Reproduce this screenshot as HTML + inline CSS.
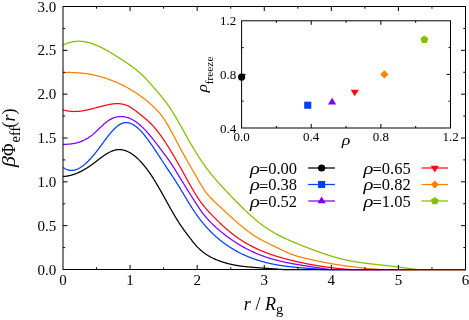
<!DOCTYPE html>
<html><head><meta charset="utf-8"><title>chart</title>
<style>
html,body{margin:0;padding:0;background:#fff;}
svg{will-change:transform;}
body{width:469px;height:320px;overflow:hidden;position:relative;font-family:"Liberation Serif",serif;}
</style></head><body>
<svg width="469" height="320" viewBox="0 0 469 320" style="position:absolute;left:0;top:0;font-family:'Liberation Serif',serif">
<rect x="0" y="0" width="469" height="320" fill="#fff"/>
<g fill="none" stroke-width="1.25" stroke-linejoin="round">
<path d="M63.00,176.43 L63.50,176.41 L64.00,176.39 L64.50,176.36 L65.00,176.32 L65.50,176.27 L66.00,176.22 L66.50,176.15 L67.00,176.08 L67.50,176.01 L68.00,175.92 L68.50,175.83 L69.00,175.73 L69.50,175.63 L70.00,175.51 L70.50,175.39 L71.00,175.27 L71.50,175.13 L72.00,174.99 L72.50,174.84 L73.00,174.69 L73.50,174.53 L74.00,174.36 L74.50,174.19 L75.00,174.01 L75.50,173.82 L76.00,173.63 L76.50,173.43 L77.00,173.23 L77.50,173.02 L78.00,172.80 L78.50,172.58 L79.00,172.35 L79.50,172.11 L80.00,171.87 L80.50,171.62 L81.00,171.37 L81.50,171.12 L82.00,170.85 L82.50,170.58 L83.00,170.31 L83.50,170.03 L84.00,169.75 L84.50,169.46 L85.00,169.16 L85.50,168.86 L86.00,168.56 L86.50,168.25 L87.00,167.93 L87.50,167.61 L88.00,167.29 L88.50,166.96 L89.00,166.63 L89.50,166.29 L90.00,165.95 L90.50,165.60 L91.00,165.25 L91.50,164.89 L92.00,164.53 L92.50,164.17 L93.00,163.80 L93.50,163.43 L94.00,163.05 L94.50,162.68 L95.00,162.30 L95.50,161.92 L96.00,161.54 L96.50,161.15 L97.00,160.77 L97.50,160.39 L98.00,160.00 L98.50,159.62 L99.00,159.24 L99.50,158.86 L100.00,158.48 L100.50,158.11 L101.00,157.74 L101.50,157.37 L102.00,157.00 L102.50,156.64 L103.00,156.28 L103.50,155.93 L104.00,155.58 L104.50,155.24 L105.00,154.90 L105.50,154.58 L106.00,154.25 L106.50,153.94 L107.00,153.63 L107.50,153.33 L108.00,153.04 L108.50,152.76 L109.00,152.49 L109.50,152.23 L110.00,151.97 L110.50,151.73 L111.00,151.50 L111.50,151.28 L112.00,151.07 L112.50,150.88 L113.00,150.70 L113.50,150.53 L114.00,150.37 L114.50,150.23 L115.00,150.10 L115.50,149.98 L116.00,149.88 L116.50,149.80 L117.00,149.73 L117.50,149.67 L118.00,149.63 L118.50,149.61 L119.00,149.59 L119.50,149.60 L120.00,149.61 L120.50,149.64 L121.00,149.68 L121.50,149.74 L122.00,149.81 L122.50,149.90 L123.00,150.00 L123.50,150.11 L124.00,150.23 L124.50,150.37 L125.00,150.52 L125.50,150.69 L126.00,150.87 L126.50,151.06 L127.00,151.26 L127.50,151.48 L128.00,151.71 L128.50,151.95 L129.00,152.21 L129.50,152.48 L130.00,152.76 L130.50,153.05 L131.00,153.36 L131.50,153.68 L132.00,154.01 L132.50,154.35 L133.00,154.71 L133.50,155.07 L134.00,155.45 L134.50,155.84 L135.00,156.24 L135.50,156.66 L136.00,157.08 L136.50,157.52 L137.00,157.97 L137.50,158.43 L138.00,158.90 L138.50,159.38 L139.00,159.88 L139.50,160.38 L140.00,160.90 L140.50,161.43 L141.00,161.96 L141.50,162.51 L142.00,163.07 L142.50,163.64 L143.00,164.22 L143.50,164.81 L144.00,165.42 L144.50,166.03 L145.00,166.65 L145.50,167.28 L146.00,167.93 L146.50,168.58 L147.00,169.24 L147.50,169.91 L148.00,170.60 L148.50,171.29 L149.00,171.99 L149.50,172.70 L150.00,173.42 L150.50,174.15 L151.00,174.89 L151.50,175.64 L152.00,176.40 L152.50,177.17 L153.00,177.94 L153.50,178.73 L154.00,179.52 L154.50,180.33 L155.00,181.14 L155.50,181.96 L156.00,182.79 L156.50,183.62 L157.00,184.46 L157.50,185.31 L158.00,186.17 L158.50,187.03 L159.00,187.89 L159.50,188.76 L160.00,189.64 L160.50,190.52 L161.00,191.40 L161.50,192.29 L162.00,193.18 L162.50,194.08 L163.00,194.97 L163.50,195.87 L164.00,196.77 L164.50,197.67 L165.00,198.58 L165.50,199.48 L166.00,200.38 L166.50,201.29 L167.00,202.19 L167.50,203.09 L168.00,204.00 L168.50,204.89 L169.00,205.79 L169.50,206.69 L170.00,207.58 L170.50,208.47 L171.00,209.36 L171.50,210.24 L172.00,211.12 L172.50,211.99 L173.00,212.86 L173.50,213.72 L174.00,214.58 L174.50,215.43 L175.00,216.28 L175.50,217.12 L176.00,217.95 L176.50,218.77 L177.00,219.59 L177.50,220.40 L178.00,221.20 L178.50,221.99 L179.00,222.77 L179.50,223.54 L180.00,224.30 L180.50,225.05 L181.00,225.79 L181.50,226.52 L182.00,227.25 L182.50,227.96 L183.00,228.67 L183.50,229.37 L184.00,230.06 L184.50,230.74 L185.00,231.43 L185.50,232.10 L186.00,232.77 L186.50,233.44 L187.00,234.10 L187.50,234.76 L188.00,235.42 L188.50,236.07 L189.00,236.72 L189.50,237.38 L190.00,238.03 L190.50,238.68 L191.00,239.33 L191.50,239.98 L192.00,240.62 L192.50,241.26 L193.00,241.90 L193.50,242.52 L194.00,243.14 L194.50,243.75 L195.00,244.35 L195.50,244.93 L196.00,245.50 L196.50,246.06 L197.00,246.60 L197.50,247.13 L198.00,247.64 L198.50,248.14 L199.00,248.63 L199.50,249.11 L200.00,249.57 L200.50,250.02 L201.00,250.46 L201.50,250.89 L202.00,251.31 L202.50,251.71 L203.00,252.11 L203.50,252.49 L204.00,252.87 L204.50,253.23 L205.00,253.59 L205.50,253.94 L206.00,254.27 L206.50,254.60 L207.00,254.92 L207.50,255.23 L208.00,255.54 L208.50,255.83 L209.00,256.12 L209.50,256.40 L210.00,256.68 L210.50,256.95 L211.00,257.21 L211.50,257.47 L212.00,257.72 L212.50,257.96 L213.00,258.20 L213.50,258.44 L214.00,258.67 L214.50,258.90 L215.00,259.12 L215.50,259.34 L216.00,259.56 L216.50,259.77 L217.00,259.97 L217.50,260.18 L218.00,260.37 L218.50,260.57 L219.00,260.76 L219.50,260.95 L220.00,261.13 L220.50,261.31 L221.00,261.49 L221.50,261.66 L222.00,261.83 L222.50,261.99 L223.00,262.16 L223.50,262.32 L224.00,262.47 L224.50,262.62 L225.00,262.77 L225.50,262.92 L226.00,263.06 L226.50,263.20 L227.00,263.34 L227.50,263.47 L228.00,263.60 L228.50,263.73 L229.00,263.85 L229.50,263.97 L230.00,264.09 L230.50,264.21 L231.00,264.32 L231.50,264.43 L232.00,264.54 L232.50,264.65 L233.00,264.75 L233.50,264.85 L234.00,264.95 L234.50,265.04 L235.00,265.14 L235.50,265.23 L236.00,265.32 L236.50,265.41 L237.00,265.49 L237.50,265.57 L238.00,265.65 L238.50,265.73 L239.00,265.81 L239.50,265.88 L240.00,265.95 L240.50,266.03 L241.00,266.09 L241.50,266.16 L242.00,266.23 L242.50,266.29 L243.00,266.35 L243.50,266.42 L244.00,266.47 L244.50,266.53 L245.00,266.59 L245.50,266.64 L246.00,266.70 L246.50,266.75 L247.00,266.80 L247.50,266.85 L248.00,266.90 L248.50,266.95 L249.00,267.00 L249.50,267.04 L250.00,267.09 L250.50,267.13 L251.00,267.17 L251.50,267.22 L252.00,267.26 L252.50,267.30 L253.00,267.34 L253.50,267.38 L254.00,267.42 L254.50,267.46 L255.00,267.49 L255.50,267.53 L256.00,267.57 L256.50,267.61 L257.00,267.64 L257.50,267.68 L258.00,267.72 L258.50,267.75 L259.00,267.79 L259.50,267.82 L260.00,267.86 L260.50,267.89 L261.00,267.93 L261.50,267.97 L262.00,268.00 L262.50,268.04 L263.00,268.07 L263.50,268.11 L264.00,268.15 L264.50,268.18 L265.00,268.22 L265.50,268.26 L266.00,268.29 L266.50,268.33 L267.00,268.37 L267.50,268.40 L268.00,268.44 L268.50,268.48 L269.00,268.51 L269.50,268.55 L270.00,268.59 L270.50,268.62 L271.00,268.66 L271.50,268.70 L272.00,268.73 L272.50,268.77 L273.00,268.81 L273.50,268.85 L274.00,268.88 L274.50,268.92 L275.00,268.96 L275.50,268.99 L276.00,269.03 L276.50,269.07 L277.00,269.11 L277.50,269.14 L278.00,269.18 L278.50,269.22 L279.00,269.26 L279.50,269.29 L280.00,269.33 L280.50,269.37 L281.00,269.40 L281.50,269.44 L282.00,269.48 L282.50,269.50 L283.00,269.50 L283.50,269.50 L284.00,269.50 L284.50,269.50 L285.00,269.50 L285.50,269.50 L286.00,269.50 L286.50,269.50 L287.00,269.50 L287.50,269.50 L288.00,269.50 L288.50,269.50 L289.00,269.50 L289.50,269.50 L290.00,269.50 L290.50,269.50 L291.00,269.50 L291.50,269.50 L292.00,269.50 L292.50,269.50 L293.00,269.50 L293.50,269.50 L294.00,269.50 L294.50,269.50 L295.00,269.50 L295.50,269.50 L296.00,269.50 L296.50,269.50 L297.00,269.50 L297.50,269.50 L298.00,269.50 L298.50,269.50 L299.00,269.50 L299.50,269.50 L300.00,269.50 L300.50,269.50 L301.00,269.50 L301.50,269.50 L302.00,269.50 L302.50,269.50 L303.00,269.50 L303.50,269.50 L304.00,269.50 L304.50,269.50 L305.00,269.50 L305.50,269.50 L306.00,269.50 L306.50,269.50 L307.00,269.50 L307.50,269.50 L308.00,269.50 L308.50,269.50 L309.00,269.50 L309.50,269.50 L310.00,269.50 L310.50,269.50 L311.00,269.50 L311.50,269.50 L312.00,269.50 L312.50,269.50 L313.00,269.50 L313.50,269.50 L314.00,269.50 L314.50,269.50 L315.00,269.50 L315.50,269.50 L316.00,269.50 L316.50,269.50 L317.00,269.50 L317.50,269.50 L318.00,269.50 L318.50,269.50 L319.00,269.50 L319.50,269.50 L320.00,269.50 L320.50,269.50 L321.00,269.50 L321.50,269.50 L322.00,269.50 L322.50,269.50 L323.00,269.50 L323.50,269.50 L324.00,269.50 L324.50,269.50 L325.00,269.50 L325.50,269.50 L326.00,269.50 L326.50,269.50 L327.00,269.50 L327.50,269.50 L328.00,269.50 L328.50,269.50 L329.00,269.50 L329.50,269.50 L330.00,269.50 L330.50,269.50 L331.00,269.50 L331.50,269.50 L332.00,269.50 L332.50,269.50 L333.00,269.50 L333.50,269.50 L334.00,269.50 L334.50,269.50 L335.00,269.50 L335.50,269.50 L336.00,269.50 L336.50,269.50 L337.00,269.50 L337.50,269.50 L338.00,269.50 L338.50,269.50 L339.00,269.50 L339.50,269.50 L340.00,269.50 L340.50,269.50 L341.00,269.50 L341.50,269.50 L342.00,269.50 L342.50,269.50 L343.00,269.50 L343.50,269.50 L344.00,269.50 L344.50,269.50 L345.00,269.50 L345.50,269.50 L346.00,269.50 L346.50,269.50 L347.00,269.50 L347.50,269.50 L348.00,269.50 L348.50,269.50 L349.00,269.50 L349.50,269.50 L350.00,269.50 L350.50,269.50 L351.00,269.50 L351.50,269.50 L352.00,269.50 L352.50,269.50 L353.00,269.50 L353.50,269.50 L354.00,269.50 L354.50,269.50 L355.00,269.50 L355.50,269.50 L356.00,269.50 L356.50,269.50 L357.00,269.50 L357.50,269.50 L358.00,269.50 L358.50,269.50 L359.00,269.50 L359.50,269.50 L360.00,269.50 L360.50,269.50 L361.00,269.50 L361.50,269.50 L362.00,269.50 L362.50,269.50 L363.00,269.50 L363.50,269.50 L364.00,269.50 L364.50,269.50 L365.00,269.50 L365.50,269.50 L366.00,269.50 L366.50,269.50 L367.00,269.50 L367.50,269.50 L368.00,269.50 L368.50,269.50 L369.00,269.50 L369.50,269.50 L370.00,269.50 L370.50,269.50 L371.00,269.50 L371.50,269.50 L372.00,269.50 L372.50,269.50 L373.00,269.50 L373.50,269.50 L374.00,269.50 L374.50,269.50 L375.00,269.50 L375.50,269.50 L376.00,269.50 L376.50,269.50 L377.00,269.50 L377.50,269.50 L378.00,269.50 L378.50,269.50 L379.00,269.50 L379.50,269.50 L380.00,269.50 L380.50,269.50 L381.00,269.50 L381.50,269.50 L382.00,269.50 L382.50,269.50 L383.00,269.50 L383.50,269.50 L384.00,269.50 L384.50,269.50 L385.00,269.50 L385.50,269.50 L386.00,269.50 L386.50,269.50 L387.00,269.50 L387.50,269.50 L388.00,269.50 L388.50,269.50 L389.00,269.50 L389.50,269.50 L390.00,269.50 L390.50,269.50 L391.00,269.50 L391.50,269.50 L392.00,269.50 L392.50,269.50 L393.00,269.50 L393.50,269.50 L394.00,269.50 L394.50,269.50 L395.00,269.50 L395.50,269.50 L396.00,269.50 L396.50,269.50 L397.00,269.50 L397.50,269.50 L398.00,269.50 L398.50,269.50 L399.00,269.50 L399.50,269.50 L400.00,269.50 L400.50,269.50 L401.00,269.50 L401.50,269.50 L402.00,269.50 L402.50,269.50 L403.00,269.50 L403.50,269.50 L404.00,269.50 L404.50,269.50 L405.00,269.50 L405.50,269.50 L406.00,269.50 L406.50,269.50 L407.00,269.50 L407.50,269.50 L408.00,269.50 L408.50,269.50 L409.00,269.50 L409.50,269.50 L410.00,269.50 L410.50,269.50 L411.00,269.50 L411.50,269.50 L412.00,269.50 L412.50,269.50 L413.00,269.50 L413.50,269.50 L414.00,269.50 L414.50,269.50 L415.00,269.50 L415.50,269.50 L416.00,269.50 L416.50,269.50 L417.00,269.50 L417.50,269.50 L418.00,269.50 L418.50,269.50 L419.00,269.50 L419.50,269.50 L420.00,269.50 L420.50,269.50 L421.00,269.50 L421.50,269.50 L422.00,269.50 L422.50,269.50 L423.00,269.50 L423.50,269.50 L424.00,269.50 L424.50,269.50 L425.00,269.50 L425.50,269.50 L426.00,269.50 L426.50,269.50 L427.00,269.50 L427.50,269.50 L428.00,269.50 L428.50,269.50 L429.00,269.50 L429.50,269.50 L430.00,269.50 L430.50,269.50 L431.00,269.50 L431.50,269.50 L432.00,269.50 L432.50,269.50 L433.00,269.50 L433.50,269.50 L434.00,269.50 L434.50,269.50 L435.00,269.50 L435.50,269.50 L436.00,269.50 L436.50,269.50 L437.00,269.50 L437.50,269.50 L438.00,269.50 L438.50,269.50 L439.00,269.50 L439.50,269.50 L440.00,269.50 L440.50,269.50 L441.00,269.50 L441.50,269.50 L442.00,269.50 L442.50,269.50 L443.00,269.50 L443.50,269.50 L444.00,269.50 L444.50,269.50 L445.00,269.50 L445.50,269.50 L446.00,269.50 L446.50,269.50 L447.00,269.50 L447.50,269.50 L448.00,269.50 L448.50,269.50 L449.00,269.50 L449.50,269.50 L450.00,269.50 L450.50,269.50 L451.00,269.50 L451.50,269.50 L452.00,269.50 L452.50,269.50 L453.00,269.50 L453.50,269.50 L454.00,269.50 L454.50,269.50 L455.00,269.50 L455.50,269.50 L456.00,269.50 L456.50,269.50 L457.00,269.50 L457.50,269.50 L458.00,269.50 L458.50,269.50 L459.00,269.50 L459.50,269.50 L460.00,269.50 L460.50,269.50 L461.00,269.50 L461.50,269.50 L462.00,269.50 L462.50,269.50 L463.00,269.50 L463.50,269.50 L464.00,269.50 L464.50,269.50 L465.00,269.50 L465.50,269.50" stroke="#000000"/>
<path d="M63.00,167.47 L63.50,167.83 L64.00,168.15 L64.50,168.46 L65.00,168.74 L65.50,169.00 L66.00,169.23 L66.50,169.44 L67.00,169.64 L67.50,169.81 L68.00,169.95 L68.50,170.08 L69.00,170.19 L69.50,170.27 L70.00,170.34 L70.50,170.38 L71.00,170.41 L71.50,170.41 L72.00,170.40 L72.50,170.36 L73.00,170.31 L73.50,170.24 L74.00,170.15 L74.50,170.05 L75.00,169.92 L75.50,169.78 L76.00,169.62 L76.50,169.45 L77.00,169.25 L77.50,169.04 L78.00,168.82 L78.50,168.58 L79.00,168.32 L79.50,168.05 L80.00,167.76 L80.50,167.46 L81.00,167.14 L81.50,166.81 L82.00,166.47 L82.50,166.11 L83.00,165.73 L83.50,165.35 L84.00,164.95 L84.50,164.54 L85.00,164.12 L85.50,163.68 L86.00,163.23 L86.50,162.77 L87.00,162.30 L87.50,161.82 L88.00,161.33 L88.50,160.82 L89.00,160.31 L89.50,159.79 L90.00,159.25 L90.50,158.71 L91.00,158.16 L91.50,157.60 L92.00,157.03 L92.50,156.45 L93.00,155.86 L93.50,155.27 L94.00,154.66 L94.50,154.05 L95.00,153.44 L95.50,152.81 L96.00,152.18 L96.50,151.55 L97.00,150.90 L97.50,150.25 L98.00,149.60 L98.50,148.94 L99.00,148.28 L99.50,147.61 L100.00,146.94 L100.50,146.26 L101.00,145.58 L101.50,144.90 L102.00,144.22 L102.50,143.54 L103.00,142.86 L103.50,142.18 L104.00,141.50 L104.50,140.82 L105.00,140.15 L105.50,139.48 L106.00,138.81 L106.50,138.15 L107.00,137.49 L107.50,136.84 L108.00,136.20 L108.50,135.56 L109.00,134.93 L109.50,134.31 L110.00,133.70 L110.50,133.10 L111.00,132.50 L111.50,131.92 L112.00,131.35 L112.50,130.80 L113.00,130.25 L113.50,129.72 L114.00,129.21 L114.50,128.70 L115.00,128.22 L115.50,127.75 L116.00,127.29 L116.50,126.86 L117.00,126.44 L117.50,126.04 L118.00,125.66 L118.50,125.30 L119.00,124.96 L119.50,124.64 L120.00,124.35 L120.50,124.07 L121.00,123.82 L121.50,123.59 L122.00,123.39 L122.50,123.21 L123.00,123.06 L123.50,122.92 L124.00,122.82 L124.50,122.73 L125.00,122.67 L125.50,122.63 L126.00,122.61 L126.50,122.61 L127.00,122.64 L127.50,122.68 L128.00,122.75 L128.50,122.84 L129.00,122.95 L129.50,123.08 L130.00,123.23 L130.50,123.40 L131.00,123.60 L131.50,123.81 L132.00,124.04 L132.50,124.28 L133.00,124.55 L133.50,124.84 L134.00,125.14 L134.50,125.46 L135.00,125.80 L135.50,126.16 L136.00,126.54 L136.50,126.93 L137.00,127.34 L137.50,127.76 L138.00,128.21 L138.50,128.66 L139.00,129.14 L139.50,129.62 L140.00,130.13 L140.50,130.64 L141.00,131.17 L141.50,131.72 L142.00,132.27 L142.50,132.84 L143.00,133.42 L143.50,134.01 L144.00,134.62 L144.50,135.23 L145.00,135.86 L145.50,136.49 L146.00,137.13 L146.50,137.79 L147.00,138.45 L147.50,139.12 L148.00,139.80 L148.50,140.49 L149.00,141.18 L149.50,141.88 L150.00,142.59 L150.50,143.30 L151.00,144.02 L151.50,144.74 L152.00,145.47 L152.50,146.20 L153.00,146.94 L153.50,147.67 L154.00,148.42 L154.50,149.16 L155.00,149.91 L155.50,150.66 L156.00,151.41 L156.50,152.16 L157.00,152.91 L157.50,153.67 L158.00,154.42 L158.50,155.18 L159.00,155.93 L159.50,156.69 L160.00,157.45 L160.50,158.21 L161.00,158.96 L161.50,159.72 L162.00,160.48 L162.50,161.24 L163.00,162.00 L163.50,162.75 L164.00,163.51 L164.50,164.27 L165.00,165.03 L165.50,165.78 L166.00,166.54 L166.50,167.30 L167.00,168.05 L167.50,168.81 L168.00,169.56 L168.50,170.31 L169.00,171.06 L169.50,171.81 L170.00,172.57 L170.50,173.32 L171.00,174.07 L171.50,174.82 L172.00,175.58 L172.50,176.34 L173.00,177.10 L173.50,177.86 L174.00,178.63 L174.50,179.40 L175.00,180.18 L175.50,180.95 L176.00,181.74 L176.50,182.53 L177.00,183.32 L177.50,184.11 L178.00,184.91 L178.50,185.72 L179.00,186.53 L179.50,187.34 L180.00,188.15 L180.50,188.97 L181.00,189.80 L181.50,190.62 L182.00,191.46 L182.50,192.29 L183.00,193.12 L183.50,193.96 L184.00,194.80 L184.50,195.64 L185.00,196.48 L185.50,197.31 L186.00,198.15 L186.50,198.99 L187.00,199.82 L187.50,200.65 L188.00,201.48 L188.50,202.31 L189.00,203.13 L189.50,203.95 L190.00,204.76 L190.50,205.57 L191.00,206.37 L191.50,207.16 L192.00,207.95 L192.50,208.73 L193.00,209.50 L193.50,210.27 L194.00,211.02 L194.50,211.77 L195.00,212.50 L195.50,213.23 L196.00,213.95 L196.50,214.66 L197.00,215.37 L197.50,216.06 L198.00,216.75 L198.50,217.43 L199.00,218.10 L199.50,218.76 L200.00,219.41 L200.50,220.06 L201.00,220.70 L201.50,221.33 L202.00,221.96 L202.50,222.57 L203.00,223.18 L203.50,223.78 L204.00,224.38 L204.50,224.96 L205.00,225.54 L205.50,226.12 L206.00,226.68 L206.50,227.24 L207.00,227.79 L207.50,228.34 L208.00,228.88 L208.50,229.41 L209.00,229.94 L209.50,230.46 L210.00,230.97 L210.50,231.48 L211.00,231.98 L211.50,232.47 L212.00,232.96 L212.50,233.44 L213.00,233.92 L213.50,234.39 L214.00,234.86 L214.50,235.32 L215.00,235.77 L215.50,236.22 L216.00,236.67 L216.50,237.11 L217.00,237.54 L217.50,237.97 L218.00,238.39 L218.50,238.81 L219.00,239.23 L219.50,239.64 L220.00,240.04 L220.50,240.44 L221.00,240.84 L221.50,241.23 L222.00,241.62 L222.50,242.00 L223.00,242.38 L223.50,242.75 L224.00,243.12 L224.50,243.49 L225.00,243.85 L225.50,244.21 L226.00,244.56 L226.50,244.91 L227.00,245.26 L227.50,245.60 L228.00,245.94 L228.50,246.27 L229.00,246.60 L229.50,246.93 L230.00,247.25 L230.50,247.57 L231.00,247.88 L231.50,248.20 L232.00,248.50 L232.50,248.81 L233.00,249.11 L233.50,249.41 L234.00,249.70 L234.50,249.99 L235.00,250.28 L235.50,250.56 L236.00,250.84 L236.50,251.12 L237.00,251.39 L237.50,251.66 L238.00,251.93 L238.50,252.19 L239.00,252.45 L239.50,252.71 L240.00,252.97 L240.50,253.22 L241.00,253.47 L241.50,253.71 L242.00,253.95 L242.50,254.19 L243.00,254.43 L243.50,254.66 L244.00,254.89 L244.50,255.12 L245.00,255.35 L245.50,255.57 L246.00,255.79 L246.50,256.01 L247.00,256.22 L247.50,256.43 L248.00,256.64 L248.50,256.85 L249.00,257.05 L249.50,257.25 L250.00,257.45 L250.50,257.64 L251.00,257.84 L251.50,258.03 L252.00,258.21 L252.50,258.40 L253.00,258.58 L253.50,258.76 L254.00,258.94 L254.50,259.12 L255.00,259.29 L255.50,259.46 L256.00,259.63 L256.50,259.79 L257.00,259.96 L257.50,260.12 L258.00,260.28 L258.50,260.44 L259.00,260.59 L259.50,260.74 L260.00,260.89 L260.50,261.04 L261.00,261.19 L261.50,261.33 L262.00,261.47 L262.50,261.61 L263.00,261.75 L263.50,261.88 L264.00,262.02 L264.50,262.15 L265.00,262.28 L265.50,262.41 L266.00,262.53 L266.50,262.66 L267.00,262.78 L267.50,262.90 L268.00,263.01 L268.50,263.13 L269.00,263.25 L269.50,263.36 L270.00,263.47 L270.50,263.58 L271.00,263.69 L271.50,263.79 L272.00,263.90 L272.50,264.00 L273.00,264.10 L273.50,264.20 L274.00,264.29 L274.50,264.39 L275.00,264.49 L275.50,264.58 L276.00,264.67 L276.50,264.76 L277.00,264.85 L277.50,264.93 L278.00,265.02 L278.50,265.10 L279.00,265.19 L279.50,265.27 L280.00,265.35 L280.50,265.43 L281.00,265.50 L281.50,265.58 L282.00,265.66 L282.50,265.73 L283.00,265.80 L283.50,265.87 L284.00,265.94 L284.50,266.01 L285.00,266.08 L285.50,266.15 L286.00,266.21 L286.50,266.28 L287.00,266.34 L287.50,266.40 L288.00,266.46 L288.50,266.52 L289.00,266.58 L289.50,266.64 L290.00,266.70 L290.50,266.76 L291.00,266.81 L291.50,266.87 L292.00,266.92 L292.50,266.98 L293.00,267.03 L293.50,267.08 L294.00,267.13 L294.50,267.18 L295.00,267.23 L295.50,267.28 L296.00,267.33 L296.50,267.38 L297.00,267.42 L297.50,267.47 L298.00,267.52 L298.50,267.56 L299.00,267.61 L299.50,267.65 L300.00,267.70 L300.50,267.74 L301.00,267.78 L301.50,267.83 L302.00,267.87 L302.50,267.91 L303.00,267.95 L303.50,267.99 L304.00,268.03 L304.50,268.07 L305.00,268.11 L305.50,268.15 L306.00,268.19 L306.50,268.23 L307.00,268.26 L307.50,268.30 L308.00,268.34 L308.50,268.37 L309.00,268.41 L309.50,268.45 L310.00,268.48 L310.50,268.51 L311.00,268.55 L311.50,268.58 L312.00,268.62 L312.50,268.65 L313.00,268.68 L313.50,268.71 L314.00,268.75 L314.50,268.78 L315.00,268.81 L315.50,268.84 L316.00,268.87 L316.50,268.90 L317.00,268.93 L317.50,268.96 L318.00,268.98 L318.50,269.01 L319.00,269.04 L319.50,269.07 L320.00,269.10 L320.50,269.12 L321.00,269.50 L321.50,269.50 L322.00,269.50 L322.50,269.50 L323.00,269.50 L323.50,269.50 L324.00,269.50 L324.50,269.50 L325.00,269.50 L325.50,269.50 L326.00,269.50 L326.50,269.50 L327.00,269.50 L327.50,269.50 L328.00,269.50 L328.50,269.50 L329.00,269.50 L329.50,269.50 L330.00,269.50 L330.50,269.50 L331.00,269.50 L331.50,269.50 L332.00,269.50 L332.50,269.50 L333.00,269.50 L333.50,269.50 L334.00,269.50 L334.50,269.50 L335.00,269.50 L335.50,269.50 L336.00,269.50 L336.50,269.50 L337.00,269.50 L337.50,269.50 L338.00,269.50 L338.50,269.50 L339.00,269.50 L339.50,269.50 L340.00,269.50 L340.50,269.50 L341.00,269.50 L341.50,269.50 L342.00,269.50 L342.50,269.50 L343.00,269.50 L343.50,269.50 L344.00,269.50 L344.50,269.50 L345.00,269.50 L345.50,269.50 L346.00,269.50 L346.50,269.50 L347.00,269.50 L347.50,269.50 L348.00,269.50 L348.50,269.50 L349.00,269.50 L349.50,269.50 L350.00,269.50 L350.50,269.50 L351.00,269.50 L351.50,269.50 L352.00,269.50 L352.50,269.50 L353.00,269.50 L353.50,269.50 L354.00,269.50 L354.50,269.50 L355.00,269.50 L355.50,269.50 L356.00,269.50 L356.50,269.50 L357.00,269.50 L357.50,269.50 L358.00,269.50 L358.50,269.50 L359.00,269.50 L359.50,269.50 L360.00,269.50 L360.50,269.50 L361.00,269.50 L361.50,269.50 L362.00,269.50 L362.50,269.50 L363.00,269.50 L363.50,269.50 L364.00,269.50 L364.50,269.50 L365.00,269.50 L365.50,269.50 L366.00,269.50 L366.50,269.50 L367.00,269.50 L367.50,269.50 L368.00,269.50 L368.50,269.50 L369.00,269.50 L369.50,269.50 L370.00,269.50 L370.50,269.50 L371.00,269.50 L371.50,269.50 L372.00,269.50 L372.50,269.50 L373.00,269.50 L373.50,269.50 L374.00,269.50 L374.50,269.50 L375.00,269.50 L375.50,269.50 L376.00,269.50 L376.50,269.50 L377.00,269.50 L377.50,269.50 L378.00,269.50 L378.50,269.50 L379.00,269.50 L379.50,269.50 L380.00,269.50 L380.50,269.50 L381.00,269.50 L381.50,269.50 L382.00,269.50 L382.50,269.50 L383.00,269.50 L383.50,269.50 L384.00,269.50 L384.50,269.50 L385.00,269.50 L385.50,269.50 L386.00,269.50 L386.50,269.50 L387.00,269.50 L387.50,269.50 L388.00,269.50 L388.50,269.50 L389.00,269.50 L389.50,269.50 L390.00,269.50 L390.50,269.50 L391.00,269.50 L391.50,269.50 L392.00,269.50 L392.50,269.50 L393.00,269.50 L393.50,269.50 L394.00,269.50 L394.50,269.50 L395.00,269.50 L395.50,269.50 L396.00,269.50 L396.50,269.50 L397.00,269.50 L397.50,269.50 L398.00,269.50 L398.50,269.50 L399.00,269.50 L399.50,269.50 L400.00,269.50 L400.50,269.50 L401.00,269.50 L401.50,269.50 L402.00,269.50 L402.50,269.50 L403.00,269.50 L403.50,269.50 L404.00,269.50 L404.50,269.50 L405.00,269.50 L405.50,269.50 L406.00,269.50 L406.50,269.50 L407.00,269.50 L407.50,269.50 L408.00,269.50 L408.50,269.50 L409.00,269.50 L409.50,269.50 L410.00,269.50 L410.50,269.50 L411.00,269.50 L411.50,269.50 L412.00,269.50 L412.50,269.50 L413.00,269.50 L413.50,269.50 L414.00,269.50 L414.50,269.50 L415.00,269.50 L415.50,269.50 L416.00,269.50 L416.50,269.50 L417.00,269.50 L417.50,269.50 L418.00,269.50 L418.50,269.50 L419.00,269.50 L419.50,269.50 L420.00,269.50 L420.50,269.50 L421.00,269.50 L421.50,269.50 L422.00,269.50 L422.50,269.50 L423.00,269.50 L423.50,269.50 L424.00,269.50 L424.50,269.50 L425.00,269.50 L425.50,269.50 L426.00,269.50 L426.50,269.50 L427.00,269.50 L427.50,269.50 L428.00,269.50 L428.50,269.50 L429.00,269.50 L429.50,269.50 L430.00,269.50 L430.50,269.50 L431.00,269.50 L431.50,269.50 L432.00,269.50 L432.50,269.50 L433.00,269.50 L433.50,269.50 L434.00,269.50 L434.50,269.50 L435.00,269.50 L435.50,269.50 L436.00,269.50 L436.50,269.50 L437.00,269.50 L437.50,269.50 L438.00,269.50 L438.50,269.50 L439.00,269.50 L439.50,269.50 L440.00,269.50 L440.50,269.50 L441.00,269.50 L441.50,269.50 L442.00,269.50 L442.50,269.50 L443.00,269.50 L443.50,269.50 L444.00,269.50 L444.50,269.50 L445.00,269.50 L445.50,269.50 L446.00,269.50 L446.50,269.50 L447.00,269.50 L447.50,269.50 L448.00,269.50 L448.50,269.50 L449.00,269.50 L449.50,269.50 L450.00,269.50 L450.50,269.50 L451.00,269.50 L451.50,269.50 L452.00,269.50 L452.50,269.50 L453.00,269.50 L453.50,269.50 L454.00,269.50 L454.50,269.50 L455.00,269.50 L455.50,269.50 L456.00,269.50 L456.50,269.50 L457.00,269.50 L457.50,269.50 L458.00,269.50 L458.50,269.50 L459.00,269.50 L459.50,269.50 L460.00,269.50 L460.50,269.50 L461.00,269.50 L461.50,269.50 L462.00,269.50 L462.50,269.50 L463.00,269.50 L463.50,269.50 L464.00,269.50 L464.50,269.50 L465.00,269.50 L465.50,269.50" stroke="#0040ff"/>
<path d="M63.00,144.30 L63.50,144.31 L64.00,144.31 L64.50,144.31 L65.00,144.30 L65.50,144.30 L66.00,144.28 L66.50,144.27 L67.00,144.25 L67.50,144.22 L68.00,144.19 L68.50,144.16 L69.00,144.12 L69.50,144.08 L70.00,144.03 L70.50,143.98 L71.00,143.92 L71.50,143.86 L72.00,143.79 L72.50,143.72 L73.00,143.64 L73.50,143.56 L74.00,143.47 L74.50,143.37 L75.00,143.27 L75.50,143.16 L76.00,143.04 L76.50,142.92 L77.00,142.79 L77.50,142.65 L78.00,142.51 L78.50,142.36 L79.00,142.20 L79.50,142.04 L80.00,141.87 L80.50,141.69 L81.00,141.50 L81.50,141.30 L82.00,141.10 L82.50,140.89 L83.00,140.67 L83.50,140.44 L84.00,140.20 L84.50,139.95 L85.00,139.70 L85.50,139.44 L86.00,139.16 L86.50,138.88 L87.00,138.59 L87.50,138.29 L88.00,137.97 L88.50,137.65 L89.00,137.32 L89.50,136.98 L90.00,136.63 L90.50,136.27 L91.00,135.89 L91.50,135.51 L92.00,135.12 L92.50,134.71 L93.00,134.30 L93.50,133.87 L94.00,133.43 L94.50,132.99 L95.00,132.54 L95.50,132.08 L96.00,131.61 L96.50,131.15 L97.00,130.67 L97.50,130.19 L98.00,129.71 L98.50,129.23 L99.00,128.75 L99.50,128.27 L100.00,127.79 L100.50,127.31 L101.00,126.83 L101.50,126.36 L102.00,125.89 L102.50,125.42 L103.00,124.96 L103.50,124.51 L104.00,124.07 L104.50,123.63 L105.00,123.21 L105.50,122.79 L106.00,122.39 L106.50,121.99 L107.00,121.61 L107.50,121.25 L108.00,120.89 L108.50,120.56 L109.00,120.23 L109.50,119.92 L110.00,119.63 L110.50,119.34 L111.00,119.08 L111.50,118.82 L112.00,118.58 L112.50,118.35 L113.00,118.14 L113.50,117.94 L114.00,117.75 L114.50,117.58 L115.00,117.42 L115.50,117.27 L116.00,117.13 L116.50,117.01 L117.00,116.90 L117.50,116.81 L118.00,116.73 L118.50,116.66 L119.00,116.60 L119.50,116.56 L120.00,116.53 L120.50,116.51 L121.00,116.50 L121.50,116.51 L122.00,116.53 L122.50,116.56 L123.00,116.61 L123.50,116.66 L124.00,116.73 L124.50,116.81 L125.00,116.91 L125.50,117.01 L126.00,117.13 L126.50,117.26 L127.00,117.40 L127.50,117.55 L128.00,117.71 L128.50,117.89 L129.00,118.08 L129.50,118.28 L130.00,118.49 L130.50,118.71 L131.00,118.94 L131.50,119.19 L132.00,119.45 L132.50,119.71 L133.00,119.99 L133.50,120.28 L134.00,120.58 L134.50,120.89 L135.00,121.22 L135.50,121.55 L136.00,121.89 L136.50,122.25 L137.00,122.62 L137.50,122.99 L138.00,123.38 L138.50,123.78 L139.00,124.18 L139.50,124.60 L140.00,125.03 L140.50,125.47 L141.00,125.92 L141.50,126.38 L142.00,126.85 L142.50,127.33 L143.00,127.82 L143.50,128.31 L144.00,128.82 L144.50,129.34 L145.00,129.86 L145.50,130.40 L146.00,130.94 L146.50,131.49 L147.00,132.04 L147.50,132.61 L148.00,133.18 L148.50,133.76 L149.00,134.34 L149.50,134.93 L150.00,135.53 L150.50,136.13 L151.00,136.74 L151.50,137.35 L152.00,137.97 L152.50,138.59 L153.00,139.22 L153.50,139.85 L154.00,140.48 L154.50,141.12 L155.00,141.76 L155.50,142.41 L156.00,143.06 L156.50,143.71 L157.00,144.36 L157.50,145.01 L158.00,145.67 L158.50,146.33 L159.00,146.99 L159.50,147.65 L160.00,148.31 L160.50,148.97 L161.00,149.63 L161.50,150.29 L162.00,150.95 L162.50,151.61 L163.00,152.27 L163.50,152.93 L164.00,153.59 L164.50,154.25 L165.00,154.91 L165.50,155.57 L166.00,156.24 L166.50,156.92 L167.00,157.59 L167.50,158.28 L168.00,158.97 L168.50,159.67 L169.00,160.38 L169.50,161.09 L170.00,161.82 L170.50,162.55 L171.00,163.30 L171.50,164.06 L172.00,164.82 L172.50,165.59 L173.00,166.37 L173.50,167.16 L174.00,167.95 L174.50,168.75 L175.00,169.56 L175.50,170.37 L176.00,171.18 L176.50,171.99 L177.00,172.81 L177.50,173.63 L178.00,174.45 L178.50,175.27 L179.00,176.09 L179.50,176.90 L180.00,177.72 L180.50,178.54 L181.00,179.35 L181.50,180.17 L182.00,180.98 L182.50,181.80 L183.00,182.61 L183.50,183.42 L184.00,184.23 L184.50,185.04 L185.00,185.85 L185.50,186.65 L186.00,187.46 L186.50,188.27 L187.00,189.07 L187.50,189.87 L188.00,190.67 L188.50,191.48 L189.00,192.28 L189.50,193.07 L190.00,193.87 L190.50,194.67 L191.00,195.47 L191.50,196.26 L192.00,197.05 L192.50,197.85 L193.00,198.64 L193.50,199.43 L194.00,200.22 L194.50,201.01 L195.00,201.79 L195.50,202.58 L196.00,203.36 L196.50,204.14 L197.00,204.91 L197.50,205.68 L198.00,206.44 L198.50,207.20 L199.00,207.94 L199.50,208.68 L200.00,209.41 L200.50,210.13 L201.00,210.85 L201.50,211.54 L202.00,212.23 L202.50,212.91 L203.00,213.57 L203.50,214.22 L204.00,214.85 L204.50,215.47 L205.00,216.08 L205.50,216.68 L206.00,217.26 L206.50,217.83 L207.00,218.39 L207.50,218.95 L208.00,219.49 L208.50,220.03 L209.00,220.56 L209.50,221.08 L210.00,221.60 L210.50,222.11 L211.00,222.62 L211.50,223.12 L212.00,223.61 L212.50,224.10 L213.00,224.59 L213.50,225.07 L214.00,225.54 L214.50,226.01 L215.00,226.47 L215.50,226.93 L216.00,227.39 L216.50,227.84 L217.00,228.28 L217.50,228.73 L218.00,229.16 L218.50,229.60 L219.00,230.02 L219.50,230.45 L220.00,230.87 L220.50,231.29 L221.00,231.70 L221.50,232.11 L222.00,232.52 L222.50,232.92 L223.00,233.32 L223.50,233.72 L224.00,234.11 L224.50,234.50 L225.00,234.89 L225.50,235.27 L226.00,235.65 L226.50,236.03 L227.00,236.40 L227.50,236.77 L228.00,237.14 L228.50,237.51 L229.00,237.87 L229.50,238.23 L230.00,238.59 L230.50,238.94 L231.00,239.29 L231.50,239.64 L232.00,239.98 L232.50,240.32 L233.00,240.66 L233.50,241.00 L234.00,241.33 L234.50,241.66 L235.00,241.99 L235.50,242.31 L236.00,242.63 L236.50,242.95 L237.00,243.27 L237.50,243.58 L238.00,243.89 L238.50,244.20 L239.00,244.50 L239.50,244.80 L240.00,245.10 L240.50,245.40 L241.00,245.69 L241.50,245.98 L242.00,246.27 L242.50,246.55 L243.00,246.83 L243.50,247.11 L244.00,247.39 L244.50,247.66 L245.00,247.93 L245.50,248.20 L246.00,248.47 L246.50,248.73 L247.00,248.99 L247.50,249.25 L248.00,249.51 L248.50,249.76 L249.00,250.01 L249.50,250.26 L250.00,250.50 L250.50,250.75 L251.00,250.99 L251.50,251.22 L252.00,251.46 L252.50,251.69 L253.00,251.92 L253.50,252.15 L254.00,252.37 L254.50,252.60 L255.00,252.82 L255.50,253.04 L256.00,253.25 L256.50,253.46 L257.00,253.67 L257.50,253.88 L258.00,254.09 L258.50,254.29 L259.00,254.49 L259.50,254.69 L260.00,254.89 L260.50,255.08 L261.00,255.27 L261.50,255.46 L262.00,255.65 L262.50,255.83 L263.00,256.02 L263.50,256.20 L264.00,256.38 L264.50,256.55 L265.00,256.73 L265.50,256.90 L266.00,257.07 L266.50,257.24 L267.00,257.40 L267.50,257.57 L268.00,257.73 L268.50,257.89 L269.00,258.04 L269.50,258.20 L270.00,258.35 L270.50,258.51 L271.00,258.66 L271.50,258.81 L272.00,258.95 L272.50,259.10 L273.00,259.24 L273.50,259.38 L274.00,259.52 L274.50,259.66 L275.00,259.79 L275.50,259.93 L276.00,260.06 L276.50,260.19 L277.00,260.32 L277.50,260.45 L278.00,260.58 L278.50,260.70 L279.00,260.83 L279.50,260.95 L280.00,261.07 L280.50,261.19 L281.00,261.31 L281.50,261.42 L282.00,261.54 L282.50,261.65 L283.00,261.76 L283.50,261.88 L284.00,261.99 L284.50,262.09 L285.00,262.20 L285.50,262.31 L286.00,262.41 L286.50,262.52 L287.00,262.62 L287.50,262.72 L288.00,262.82 L288.50,262.92 L289.00,263.02 L289.50,263.12 L290.00,263.21 L290.50,263.31 L291.00,263.40 L291.50,263.50 L292.00,263.59 L292.50,263.68 L293.00,263.77 L293.50,263.86 L294.00,263.95 L294.50,264.04 L295.00,264.13 L295.50,264.22 L296.00,264.30 L296.50,264.39 L297.00,264.47 L297.50,264.56 L298.00,264.64 L298.50,264.72 L299.00,264.81 L299.50,264.89 L300.00,264.97 L300.50,265.05 L301.00,265.13 L301.50,265.21 L302.00,265.29 L302.50,265.37 L303.00,265.45 L303.50,265.53 L304.00,265.60 L304.50,265.68 L305.00,265.76 L305.50,265.84 L306.00,265.91 L306.50,265.99 L307.00,266.07 L307.50,266.14 L308.00,266.22 L308.50,266.29 L309.00,266.37 L309.50,266.44 L310.00,266.52 L310.50,266.59 L311.00,266.67 L311.50,266.75 L312.00,266.82 L312.50,266.90 L313.00,266.97 L313.50,267.05 L314.00,267.12 L314.50,267.20 L315.00,267.27 L315.50,267.35 L316.00,267.43 L316.50,267.50 L317.00,267.58 L317.50,267.66 L318.00,267.73 L318.50,267.81 L319.00,267.89 L319.50,267.96 L320.00,268.04 L320.50,268.12 L321.00,268.20 L321.50,268.27 L322.00,268.35 L322.50,268.43 L323.00,268.51 L323.50,268.58 L324.00,268.66 L324.50,268.74 L325.00,268.82 L325.50,268.90 L326.00,268.97 L326.50,269.05 L327.00,269.13 L327.50,269.21 L328.00,269.29 L328.50,269.37 L329.00,269.44 L329.50,269.50 L330.00,269.50 L330.50,269.50 L331.00,269.50 L331.50,269.50 L332.00,269.50 L332.50,269.50 L333.00,269.50 L333.50,269.50 L334.00,269.50 L334.50,269.50 L335.00,269.50 L335.50,269.50 L336.00,269.50 L336.50,269.50 L337.00,269.50 L337.50,269.50 L338.00,269.50 L338.50,269.50 L339.00,269.50 L339.50,269.50 L340.00,269.50 L340.50,269.50 L341.00,269.50 L341.50,269.50 L342.00,269.50 L342.50,269.50 L343.00,269.50 L343.50,269.50 L344.00,269.50 L344.50,269.50 L345.00,269.50 L345.50,269.50 L346.00,269.50 L346.50,269.50 L347.00,269.50 L347.50,269.50 L348.00,269.50 L348.50,269.50 L349.00,269.50 L349.50,269.50 L350.00,269.50 L350.50,269.50 L351.00,269.50 L351.50,269.50 L352.00,269.50 L352.50,269.50 L353.00,269.50 L353.50,269.50 L354.00,269.50 L354.50,269.50 L355.00,269.50 L355.50,269.50 L356.00,269.50 L356.50,269.50 L357.00,269.50 L357.50,269.50 L358.00,269.50 L358.50,269.50 L359.00,269.50 L359.50,269.50 L360.00,269.50 L360.50,269.50 L361.00,269.50 L361.50,269.50 L362.00,269.50 L362.50,269.50 L363.00,269.50 L363.50,269.50 L364.00,269.50 L364.50,269.50 L365.00,269.50 L365.50,269.50 L366.00,269.50 L366.50,269.50 L367.00,269.50 L367.50,269.50 L368.00,269.50 L368.50,269.50 L369.00,269.50 L369.50,269.50 L370.00,269.50 L370.50,269.50 L371.00,269.50 L371.50,269.50 L372.00,269.50 L372.50,269.50 L373.00,269.50 L373.50,269.50 L374.00,269.50 L374.50,269.50 L375.00,269.50 L375.50,269.50 L376.00,269.50 L376.50,269.50 L377.00,269.50 L377.50,269.50 L378.00,269.50 L378.50,269.50 L379.00,269.50 L379.50,269.50 L380.00,269.50 L380.50,269.50 L381.00,269.50 L381.50,269.50 L382.00,269.50 L382.50,269.50 L383.00,269.50 L383.50,269.50 L384.00,269.50 L384.50,269.50 L385.00,269.50 L385.50,269.50 L386.00,269.50 L386.50,269.50 L387.00,269.50 L387.50,269.50 L388.00,269.50 L388.50,269.50 L389.00,269.50 L389.50,269.50 L390.00,269.50 L390.50,269.50 L391.00,269.50 L391.50,269.50 L392.00,269.50 L392.50,269.50 L393.00,269.50 L393.50,269.50 L394.00,269.50 L394.50,269.50 L395.00,269.50 L395.50,269.50 L396.00,269.50 L396.50,269.50 L397.00,269.50 L397.50,269.50 L398.00,269.50 L398.50,269.50 L399.00,269.50 L399.50,269.50 L400.00,269.50 L400.50,269.50 L401.00,269.50 L401.50,269.50 L402.00,269.50 L402.50,269.50 L403.00,269.50 L403.50,269.50 L404.00,269.50 L404.50,269.50 L405.00,269.50 L405.50,269.50 L406.00,269.50 L406.50,269.50 L407.00,269.50 L407.50,269.50 L408.00,269.50 L408.50,269.50 L409.00,269.50 L409.50,269.50 L410.00,269.50 L410.50,269.50 L411.00,269.50 L411.50,269.50 L412.00,269.50 L412.50,269.50 L413.00,269.50 L413.50,269.50 L414.00,269.50 L414.50,269.50 L415.00,269.50 L415.50,269.50 L416.00,269.50 L416.50,269.50 L417.00,269.50 L417.50,269.50 L418.00,269.50 L418.50,269.50 L419.00,269.50 L419.50,269.50 L420.00,269.50 L420.50,269.50 L421.00,269.50 L421.50,269.50 L422.00,269.50 L422.50,269.50 L423.00,269.50 L423.50,269.50 L424.00,269.50 L424.50,269.50 L425.00,269.50 L425.50,269.50 L426.00,269.50 L426.50,269.50 L427.00,269.50 L427.50,269.50 L428.00,269.50 L428.50,269.50 L429.00,269.50 L429.50,269.50 L430.00,269.50 L430.50,269.50 L431.00,269.50 L431.50,269.50 L432.00,269.50 L432.50,269.50 L433.00,269.50 L433.50,269.50 L434.00,269.50 L434.50,269.50 L435.00,269.50 L435.50,269.50 L436.00,269.50 L436.50,269.50 L437.00,269.50 L437.50,269.50 L438.00,269.50 L438.50,269.50 L439.00,269.50 L439.50,269.50 L440.00,269.50 L440.50,269.50 L441.00,269.50 L441.50,269.50 L442.00,269.50 L442.50,269.50 L443.00,269.50 L443.50,269.50 L444.00,269.50 L444.50,269.50 L445.00,269.50 L445.50,269.50 L446.00,269.50 L446.50,269.50 L447.00,269.50 L447.50,269.50 L448.00,269.50 L448.50,269.50 L449.00,269.50 L449.50,269.50 L450.00,269.50 L450.50,269.50 L451.00,269.50 L451.50,269.50 L452.00,269.50 L452.50,269.50 L453.00,269.50 L453.50,269.50 L454.00,269.50 L454.50,269.50 L455.00,269.50 L455.50,269.50 L456.00,269.50 L456.50,269.50 L457.00,269.50 L457.50,269.50 L458.00,269.50 L458.50,269.50 L459.00,269.50 L459.50,269.50 L460.00,269.50 L460.50,269.50 L461.00,269.50 L461.50,269.50 L462.00,269.50 L462.50,269.50 L463.00,269.50 L463.50,269.50 L464.00,269.50 L464.50,269.50 L465.00,269.50 L465.50,269.50" stroke="#8000ff"/>
<path d="M63.00,109.80 L63.50,109.96 L64.00,110.11 L64.50,110.25 L65.00,110.38 L65.50,110.51 L66.00,110.62 L66.50,110.73 L67.00,110.83 L67.50,110.93 L68.00,111.01 L68.50,111.09 L69.00,111.16 L69.50,111.23 L70.00,111.28 L70.50,111.33 L71.00,111.38 L71.50,111.42 L72.00,111.45 L72.50,111.47 L73.00,111.49 L73.50,111.50 L74.00,111.51 L74.50,111.51 L75.00,111.50 L75.50,111.49 L76.00,111.47 L76.50,111.45 L77.00,111.42 L77.50,111.39 L78.00,111.35 L78.50,111.31 L79.00,111.26 L79.50,111.21 L80.00,111.15 L80.50,111.09 L81.00,111.03 L81.50,110.96 L82.00,110.89 L82.50,110.81 L83.00,110.73 L83.50,110.64 L84.00,110.56 L84.50,110.46 L85.00,110.37 L85.50,110.27 L86.00,110.17 L86.50,110.07 L87.00,109.96 L87.50,109.86 L88.00,109.74 L88.50,109.63 L89.00,109.52 L89.50,109.40 L90.00,109.28 L90.50,109.16 L91.00,109.03 L91.50,108.91 L92.00,108.78 L92.50,108.66 L93.00,108.53 L93.50,108.40 L94.00,108.27 L94.50,108.14 L95.00,108.00 L95.50,107.87 L96.00,107.74 L96.50,107.61 L97.00,107.47 L97.50,107.34 L98.00,107.20 L98.50,107.07 L99.00,106.94 L99.50,106.81 L100.00,106.67 L100.50,106.54 L101.00,106.41 L101.50,106.28 L102.00,106.15 L102.50,106.03 L103.00,105.90 L103.50,105.78 L104.00,105.65 L104.50,105.53 L105.00,105.41 L105.50,105.29 L106.00,105.18 L106.50,105.07 L107.00,104.96 L107.50,104.85 L108.00,104.74 L108.50,104.64 L109.00,104.54 L109.50,104.45 L110.00,104.36 L110.50,104.27 L111.00,104.19 L111.50,104.11 L112.00,104.04 L112.50,103.97 L113.00,103.91 L113.50,103.86 L114.00,103.81 L114.50,103.76 L115.00,103.73 L115.50,103.70 L116.00,103.67 L116.50,103.66 L117.00,103.65 L117.50,103.65 L118.00,103.66 L118.50,103.68 L119.00,103.70 L119.50,103.74 L120.00,103.78 L120.50,103.83 L121.00,103.89 L121.50,103.97 L122.00,104.05 L122.50,104.14 L123.00,104.25 L123.50,104.36 L124.00,104.49 L124.50,104.62 L125.00,104.77 L125.50,104.93 L126.00,105.11 L126.50,105.29 L127.00,105.49 L127.50,105.70 L128.00,105.93 L128.50,106.17 L129.00,106.42 L129.50,106.69 L130.00,106.97 L130.50,107.26 L131.00,107.56 L131.50,107.88 L132.00,108.20 L132.50,108.54 L133.00,108.89 L133.50,109.24 L134.00,109.60 L134.50,109.97 L135.00,110.34 L135.50,110.72 L136.00,111.11 L136.50,111.50 L137.00,111.89 L137.50,112.28 L138.00,112.68 L138.50,113.08 L139.00,113.47 L139.50,113.87 L140.00,114.27 L140.50,114.66 L141.00,115.06 L141.50,115.46 L142.00,115.86 L142.50,116.26 L143.00,116.66 L143.50,117.07 L144.00,117.48 L144.50,117.89 L145.00,118.31 L145.50,118.73 L146.00,119.16 L146.50,119.59 L147.00,120.03 L147.50,120.47 L148.00,120.92 L148.50,121.38 L149.00,121.84 L149.50,122.32 L150.00,122.80 L150.50,123.29 L151.00,123.79 L151.50,124.30 L152.00,124.82 L152.50,125.35 L153.00,125.90 L153.50,126.45 L154.00,127.01 L154.50,127.59 L155.00,128.17 L155.50,128.76 L156.00,129.37 L156.50,129.98 L157.00,130.60 L157.50,131.23 L158.00,131.87 L158.50,132.52 L159.00,133.18 L159.50,133.85 L160.00,134.52 L160.50,135.21 L161.00,135.90 L161.50,136.60 L162.00,137.31 L162.50,138.02 L163.00,138.74 L163.50,139.48 L164.00,140.21 L164.50,140.96 L165.00,141.71 L165.50,142.47 L166.00,143.23 L166.50,144.01 L167.00,144.79 L167.50,145.57 L168.00,146.36 L168.50,147.16 L169.00,147.96 L169.50,148.77 L170.00,149.58 L170.50,150.40 L171.00,151.23 L171.50,152.05 L172.00,152.89 L172.50,153.73 L173.00,154.57 L173.50,155.42 L174.00,156.27 L174.50,157.13 L175.00,157.99 L175.50,158.85 L176.00,159.72 L176.50,160.59 L177.00,161.46 L177.50,162.34 L178.00,163.22 L178.50,164.10 L179.00,164.99 L179.50,165.88 L180.00,166.77 L180.50,167.66 L181.00,168.56 L181.50,169.45 L182.00,170.35 L182.50,171.25 L183.00,172.16 L183.50,173.06 L184.00,173.96 L184.50,174.87 L185.00,175.78 L185.50,176.68 L186.00,177.59 L186.50,178.50 L187.00,179.40 L187.50,180.31 L188.00,181.21 L188.50,182.11 L189.00,183.01 L189.50,183.90 L190.00,184.79 L190.50,185.68 L191.00,186.56 L191.50,187.43 L192.00,188.30 L192.50,189.16 L193.00,190.02 L193.50,190.87 L194.00,191.71 L194.50,192.54 L195.00,193.37 L195.50,194.18 L196.00,194.99 L196.50,195.78 L197.00,196.56 L197.50,197.34 L198.00,198.10 L198.50,198.84 L199.00,199.58 L199.50,200.30 L200.00,201.01 L200.50,201.71 L201.00,202.39 L201.50,203.06 L202.00,203.72 L202.50,204.37 L203.00,205.00 L203.50,205.63 L204.00,206.24 L204.50,206.85 L205.00,207.45 L205.50,208.04 L206.00,208.62 L206.50,209.19 L207.00,209.76 L207.50,210.32 L208.00,210.87 L208.50,211.42 L209.00,211.96 L209.50,212.50 L210.00,213.03 L210.50,213.56 L211.00,214.08 L211.50,214.60 L212.00,215.12 L212.50,215.63 L213.00,216.15 L213.50,216.66 L214.00,217.17 L214.50,217.68 L215.00,218.18 L215.50,218.68 L216.00,219.18 L216.50,219.68 L217.00,220.17 L217.50,220.67 L218.00,221.15 L218.50,221.64 L219.00,222.12 L219.50,222.61 L220.00,223.08 L220.50,223.56 L221.00,224.03 L221.50,224.50 L222.00,224.97 L222.50,225.43 L223.00,225.89 L223.50,226.35 L224.00,226.80 L224.50,227.25 L225.00,227.70 L225.50,228.14 L226.00,228.58 L226.50,229.01 L227.00,229.45 L227.50,229.88 L228.00,230.30 L228.50,230.72 L229.00,231.14 L229.50,231.56 L230.00,231.97 L230.50,232.37 L231.00,232.77 L231.50,233.17 L232.00,233.57 L232.50,233.96 L233.00,234.34 L233.50,234.73 L234.00,235.11 L234.50,235.48 L235.00,235.85 L235.50,236.22 L236.00,236.58 L236.50,236.94 L237.00,237.30 L237.50,237.65 L238.00,238.00 L238.50,238.35 L239.00,238.69 L239.50,239.03 L240.00,239.36 L240.50,239.69 L241.00,240.02 L241.50,240.34 L242.00,240.66 L242.50,240.98 L243.00,241.30 L243.50,241.61 L244.00,241.91 L244.50,242.22 L245.00,242.52 L245.50,242.82 L246.00,243.11 L246.50,243.40 L247.00,243.69 L247.50,243.98 L248.00,244.26 L248.50,244.54 L249.00,244.82 L249.50,245.09 L250.00,245.36 L250.50,245.63 L251.00,245.89 L251.50,246.15 L252.00,246.41 L252.50,246.67 L253.00,246.92 L253.50,247.17 L254.00,247.42 L254.50,247.67 L255.00,247.91 L255.50,248.15 L256.00,248.39 L256.50,248.62 L257.00,248.85 L257.50,249.08 L258.00,249.31 L258.50,249.53 L259.00,249.76 L259.50,249.98 L260.00,250.19 L260.50,250.41 L261.00,250.62 L261.50,250.83 L262.00,251.04 L262.50,251.25 L263.00,251.45 L263.50,251.65 L264.00,251.85 L264.50,252.05 L265.00,252.24 L265.50,252.44 L266.00,252.63 L266.50,252.82 L267.00,253.01 L267.50,253.19 L268.00,253.37 L268.50,253.56 L269.00,253.74 L269.50,253.91 L270.00,254.09 L270.50,254.26 L271.00,254.44 L271.50,254.61 L272.00,254.78 L272.50,254.95 L273.00,255.11 L273.50,255.28 L274.00,255.44 L274.50,255.60 L275.00,255.76 L275.50,255.92 L276.00,256.07 L276.50,256.23 L277.00,256.38 L277.50,256.54 L278.00,256.69 L278.50,256.84 L279.00,256.99 L279.50,257.13 L280.00,257.28 L280.50,257.42 L281.00,257.57 L281.50,257.71 L282.00,257.85 L282.50,257.99 L283.00,258.13 L283.50,258.27 L284.00,258.41 L284.50,258.55 L285.00,258.68 L285.50,258.82 L286.00,258.95 L286.50,259.08 L287.00,259.21 L287.50,259.34 L288.00,259.47 L288.50,259.60 L289.00,259.73 L289.50,259.86 L290.00,259.99 L290.50,260.11 L291.00,260.24 L291.50,260.36 L292.00,260.48 L292.50,260.61 L293.00,260.73 L293.50,260.85 L294.00,260.97 L294.50,261.09 L295.00,261.20 L295.50,261.32 L296.00,261.44 L296.50,261.55 L297.00,261.67 L297.50,261.78 L298.00,261.89 L298.50,262.00 L299.00,262.12 L299.50,262.23 L300.00,262.34 L300.50,262.44 L301.00,262.55 L301.50,262.66 L302.00,262.76 L302.50,262.87 L303.00,262.97 L303.50,263.08 L304.00,263.18 L304.50,263.28 L305.00,263.38 L305.50,263.48 L306.00,263.58 L306.50,263.68 L307.00,263.78 L307.50,263.88 L308.00,263.97 L308.50,264.07 L309.00,264.17 L309.50,264.26 L310.00,264.35 L310.50,264.45 L311.00,264.54 L311.50,264.63 L312.00,264.72 L312.50,264.81 L313.00,264.90 L313.50,264.98 L314.00,265.07 L314.50,265.16 L315.00,265.24 L315.50,265.33 L316.00,265.41 L316.50,265.50 L317.00,265.58 L317.50,265.66 L318.00,265.74 L318.50,265.82 L319.00,265.90 L319.50,265.98 L320.00,266.06 L320.50,266.14 L321.00,266.21 L321.50,266.29 L322.00,266.37 L322.50,266.44 L323.00,266.52 L323.50,266.59 L324.00,266.66 L324.50,266.73 L325.00,266.80 L325.50,266.88 L326.00,266.95 L326.50,267.01 L327.00,267.08 L327.50,267.15 L328.00,267.22 L328.50,267.28 L329.00,267.35 L329.50,267.42 L330.00,267.48 L330.50,267.54 L331.00,267.61 L331.50,267.67 L332.00,267.73 L332.50,267.79 L333.00,267.85 L333.50,267.91 L334.00,267.97 L334.50,268.03 L335.00,268.09 L335.50,268.15 L336.00,268.20 L336.50,268.26 L337.00,268.31 L337.50,268.37 L338.00,268.42 L338.50,268.48 L339.00,268.53 L339.50,268.58 L340.00,268.63 L340.50,268.69 L341.00,268.74 L341.50,268.79 L342.00,268.83 L342.50,268.88 L343.00,268.93 L343.50,268.98 L344.00,269.03 L344.50,269.07 L345.00,269.12 L345.50,269.16 L346.00,269.21 L346.50,269.25 L347.00,269.30 L347.50,269.34 L348.00,269.38 L348.50,269.42 L349.00,269.46 L349.50,269.50 L350.00,269.50 L350.50,269.50 L351.00,269.50 L351.50,269.50 L352.00,269.50 L352.50,269.50 L353.00,269.50 L353.50,269.50 L354.00,269.50 L354.50,269.50 L355.00,269.50 L355.50,269.50 L356.00,269.50 L356.50,269.50 L357.00,269.50 L357.50,269.50 L358.00,269.50 L358.50,269.50 L359.00,269.50 L359.50,269.50 L360.00,269.50 L360.50,269.50 L361.00,269.50 L361.50,269.50 L362.00,269.50 L362.50,269.50 L363.00,269.50 L363.50,269.50 L364.00,269.50 L364.50,269.50 L365.00,269.50 L365.50,269.50 L366.00,269.50 L366.50,269.50 L367.00,269.50 L367.50,269.50 L368.00,269.50 L368.50,269.50 L369.00,269.50 L369.50,269.50 L370.00,269.50 L370.50,269.50 L371.00,269.50 L371.50,269.50 L372.00,269.50 L372.50,269.50 L373.00,269.50 L373.50,269.50 L374.00,269.50 L374.50,269.50 L375.00,269.50 L375.50,269.50 L376.00,269.50 L376.50,269.50 L377.00,269.50 L377.50,269.50 L378.00,269.50 L378.50,269.50 L379.00,269.50 L379.50,269.50 L380.00,269.50 L380.50,269.50 L381.00,269.50 L381.50,269.50 L382.00,269.50 L382.50,269.50 L383.00,269.50 L383.50,269.50 L384.00,269.50 L384.50,269.50 L385.00,269.50 L385.50,269.50 L386.00,269.50 L386.50,269.50 L387.00,269.50 L387.50,269.50 L388.00,269.50 L388.50,269.50 L389.00,269.50 L389.50,269.50 L390.00,269.50 L390.50,269.50 L391.00,269.50 L391.50,269.50 L392.00,269.50 L392.50,269.50 L393.00,269.50 L393.50,269.50 L394.00,269.50 L394.50,269.50 L395.00,269.50 L395.50,269.50 L396.00,269.50 L396.50,269.50 L397.00,269.50 L397.50,269.50 L398.00,269.50 L398.50,269.50 L399.00,269.50 L399.50,269.50 L400.00,269.50 L400.50,269.50 L401.00,269.50 L401.50,269.50 L402.00,269.50 L402.50,269.50 L403.00,269.50 L403.50,269.50 L404.00,269.50 L404.50,269.50 L405.00,269.50 L405.50,269.50 L406.00,269.50 L406.50,269.50 L407.00,269.50 L407.50,269.50 L408.00,269.50 L408.50,269.50 L409.00,269.50 L409.50,269.50 L410.00,269.50 L410.50,269.50 L411.00,269.50 L411.50,269.50 L412.00,269.50 L412.50,269.50 L413.00,269.50 L413.50,269.50 L414.00,269.50 L414.50,269.50 L415.00,269.50 L415.50,269.50 L416.00,269.50 L416.50,269.50 L417.00,269.50 L417.50,269.50 L418.00,269.50 L418.50,269.50 L419.00,269.50 L419.50,269.50 L420.00,269.50 L420.50,269.50 L421.00,269.50 L421.50,269.50 L422.00,269.50 L422.50,269.50 L423.00,269.50 L423.50,269.50 L424.00,269.50 L424.50,269.50 L425.00,269.50 L425.50,269.50 L426.00,269.50 L426.50,269.50 L427.00,269.50 L427.50,269.50 L428.00,269.50 L428.50,269.50 L429.00,269.50 L429.50,269.50 L430.00,269.50 L430.50,269.50 L431.00,269.50 L431.50,269.50 L432.00,269.50 L432.50,269.50 L433.00,269.50 L433.50,269.50 L434.00,269.50 L434.50,269.50 L435.00,269.50 L435.50,269.50 L436.00,269.50 L436.50,269.50 L437.00,269.50 L437.50,269.50 L438.00,269.50 L438.50,269.50 L439.00,269.50 L439.50,269.50 L440.00,269.50 L440.50,269.50 L441.00,269.50 L441.50,269.50 L442.00,269.50 L442.50,269.50 L443.00,269.50 L443.50,269.50 L444.00,269.50 L444.50,269.50 L445.00,269.50 L445.50,269.50 L446.00,269.50 L446.50,269.50 L447.00,269.50 L447.50,269.50 L448.00,269.50 L448.50,269.50 L449.00,269.50 L449.50,269.50 L450.00,269.50 L450.50,269.50 L451.00,269.50 L451.50,269.50 L452.00,269.50 L452.50,269.50 L453.00,269.50 L453.50,269.50 L454.00,269.50 L454.50,269.50 L455.00,269.50 L455.50,269.50 L456.00,269.50 L456.50,269.50 L457.00,269.50 L457.50,269.50 L458.00,269.50 L458.50,269.50 L459.00,269.50 L459.50,269.50 L460.00,269.50 L460.50,269.50 L461.00,269.50 L461.50,269.50 L462.00,269.50 L462.50,269.50 L463.00,269.50 L463.50,269.50 L464.00,269.50 L464.50,269.50 L465.00,269.50 L465.50,269.50" stroke="#ff0814"/>
<path d="M63.00,72.63 L63.50,72.61 L64.00,72.59 L64.50,72.57 L65.00,72.55 L65.50,72.54 L66.00,72.52 L66.50,72.51 L67.00,72.50 L67.50,72.50 L68.00,72.49 L68.50,72.49 L69.00,72.49 L69.50,72.49 L70.00,72.49 L70.50,72.49 L71.00,72.50 L71.50,72.51 L72.00,72.52 L72.50,72.53 L73.00,72.55 L73.50,72.57 L74.00,72.58 L74.50,72.61 L75.00,72.63 L75.50,72.65 L76.00,72.68 L76.50,72.71 L77.00,72.74 L77.50,72.78 L78.00,72.81 L78.50,72.85 L79.00,72.89 L79.50,72.93 L80.00,72.98 L80.50,73.02 L81.00,73.07 L81.50,73.12 L82.00,73.17 L82.50,73.23 L83.00,73.29 L83.50,73.34 L84.00,73.41 L84.50,73.47 L85.00,73.54 L85.50,73.60 L86.00,73.67 L86.50,73.75 L87.00,73.82 L87.50,73.90 L88.00,73.98 L88.50,74.06 L89.00,74.14 L89.50,74.23 L90.00,74.32 L90.50,74.41 L91.00,74.50 L91.50,74.59 L92.00,74.69 L92.50,74.79 L93.00,74.89 L93.50,74.99 L94.00,75.10 L94.50,75.21 L95.00,75.32 L95.50,75.43 L96.00,75.55 L96.50,75.67 L97.00,75.79 L97.50,75.91 L98.00,76.03 L98.50,76.16 L99.00,76.29 L99.50,76.42 L100.00,76.56 L100.50,76.69 L101.00,76.83 L101.50,76.98 L102.00,77.12 L102.50,77.27 L103.00,77.41 L103.50,77.57 L104.00,77.72 L104.50,77.87 L105.00,78.03 L105.50,78.19 L106.00,78.36 L106.50,78.52 L107.00,78.69 L107.50,78.86 L108.00,79.03 L108.50,79.21 L109.00,79.39 L109.50,79.57 L110.00,79.75 L110.50,79.94 L111.00,80.13 L111.50,80.32 L112.00,80.51 L112.50,80.71 L113.00,80.90 L113.50,81.10 L114.00,81.31 L114.50,81.51 L115.00,81.72 L115.50,81.93 L116.00,82.15 L116.50,82.36 L117.00,82.58 L117.50,82.80 L118.00,83.03 L118.50,83.25 L119.00,83.48 L119.50,83.71 L120.00,83.95 L120.50,84.18 L121.00,84.42 L121.50,84.67 L122.00,84.91 L122.50,85.16 L123.00,85.41 L123.50,85.66 L124.00,85.92 L124.50,86.17 L125.00,86.43 L125.50,86.70 L126.00,86.96 L126.50,87.23 L127.00,87.50 L127.50,87.78 L128.00,88.06 L128.50,88.34 L129.00,88.62 L129.50,88.90 L130.00,89.19 L130.50,89.48 L131.00,89.77 L131.50,90.07 L132.00,90.37 L132.50,90.67 L133.00,90.98 L133.50,91.28 L134.00,91.60 L134.50,91.91 L135.00,92.23 L135.50,92.55 L136.00,92.87 L136.50,93.20 L137.00,93.53 L137.50,93.86 L138.00,94.20 L138.50,94.54 L139.00,94.89 L139.50,95.24 L140.00,95.59 L140.50,95.94 L141.00,96.30 L141.50,96.67 L142.00,97.04 L142.50,97.41 L143.00,97.78 L143.50,98.16 L144.00,98.55 L144.50,98.93 L145.00,99.33 L145.50,99.72 L146.00,100.12 L146.50,100.53 L147.00,100.94 L147.50,101.35 L148.00,101.77 L148.50,102.20 L149.00,102.62 L149.50,103.06 L150.00,103.50 L150.50,103.94 L151.00,104.38 L151.50,104.84 L152.00,105.29 L152.50,105.76 L153.00,106.22 L153.50,106.70 L154.00,107.18 L154.50,107.67 L155.00,108.16 L155.50,108.67 L156.00,109.18 L156.50,109.70 L157.00,110.23 L157.50,110.77 L158.00,111.32 L158.50,111.89 L159.00,112.46 L159.50,113.05 L160.00,113.65 L160.50,114.26 L161.00,114.89 L161.50,115.53 L162.00,116.18 L162.50,116.85 L163.00,117.54 L163.50,118.24 L164.00,118.96 L164.50,119.70 L165.00,120.46 L165.50,121.23 L166.00,122.02 L166.50,122.83 L167.00,123.65 L167.50,124.48 L168.00,125.34 L168.50,126.20 L169.00,127.07 L169.50,127.96 L170.00,128.86 L170.50,129.77 L171.00,130.68 L171.50,131.61 L172.00,132.54 L172.50,133.48 L173.00,134.42 L173.50,135.37 L174.00,136.33 L174.50,137.28 L175.00,138.24 L175.50,139.20 L176.00,140.16 L176.50,141.13 L177.00,142.09 L177.50,143.05 L178.00,144.00 L178.50,144.96 L179.00,145.91 L179.50,146.85 L180.00,147.79 L180.50,148.73 L181.00,149.66 L181.50,150.58 L182.00,151.49 L182.50,152.40 L183.00,153.31 L183.50,154.21 L184.00,155.10 L184.50,155.99 L185.00,156.88 L185.50,157.76 L186.00,158.64 L186.50,159.52 L187.00,160.39 L187.50,161.27 L188.00,162.14 L188.50,163.01 L189.00,163.87 L189.50,164.74 L190.00,165.61 L190.50,166.47 L191.00,167.34 L191.50,168.20 L192.00,169.07 L192.50,169.94 L193.00,170.80 L193.50,171.67 L194.00,172.55 L194.50,173.42 L195.00,174.30 L195.50,175.18 L196.00,176.06 L196.50,176.94 L197.00,177.83 L197.50,178.72 L198.00,179.60 L198.50,180.48 L199.00,181.35 L199.50,182.22 L200.00,183.09 L200.50,183.94 L201.00,184.78 L201.50,185.61 L202.00,186.43 L202.50,187.24 L203.00,188.03 L203.50,188.80 L204.00,189.55 L204.50,190.29 L205.00,191.00 L205.50,191.69 L206.00,192.37 L206.50,193.02 L207.00,193.66 L207.50,194.28 L208.00,194.89 L208.50,195.48 L209.00,196.06 L209.50,196.62 L210.00,197.17 L210.50,197.71 L211.00,198.23 L211.50,198.75 L212.00,199.26 L212.50,199.76 L213.00,200.25 L213.50,200.74 L214.00,201.22 L214.50,201.69 L215.00,202.16 L215.50,202.63 L216.00,203.09 L216.50,203.56 L217.00,204.02 L217.50,204.48 L218.00,204.95 L218.50,205.41 L219.00,205.87 L219.50,206.34 L220.00,206.80 L220.50,207.27 L221.00,207.73 L221.50,208.20 L222.00,208.66 L222.50,209.13 L223.00,209.59 L223.50,210.05 L224.00,210.52 L224.50,210.98 L225.00,211.45 L225.50,211.91 L226.00,212.37 L226.50,212.84 L227.00,213.30 L227.50,213.76 L228.00,214.22 L228.50,214.68 L229.00,215.14 L229.50,215.59 L230.00,216.05 L230.50,216.51 L231.00,216.96 L231.50,217.41 L232.00,217.86 L232.50,218.31 L233.00,218.76 L233.50,219.21 L234.00,219.66 L234.50,220.10 L235.00,220.54 L235.50,220.99 L236.00,221.42 L236.50,221.86 L237.00,222.30 L237.50,222.73 L238.00,223.16 L238.50,223.59 L239.00,224.02 L239.50,224.44 L240.00,224.87 L240.50,225.29 L241.00,225.70 L241.50,226.12 L242.00,226.53 L242.50,226.94 L243.00,227.35 L243.50,227.75 L244.00,228.15 L244.50,228.55 L245.00,228.95 L245.50,229.34 L246.00,229.73 L246.50,230.12 L247.00,230.50 L247.50,230.88 L248.00,231.26 L248.50,231.63 L249.00,232.00 L249.50,232.36 L250.00,232.73 L250.50,233.09 L251.00,233.44 L251.50,233.79 L252.00,234.14 L252.50,234.48 L253.00,234.82 L253.50,235.16 L254.00,235.49 L254.50,235.81 L255.00,236.14 L255.50,236.45 L256.00,236.77 L256.50,237.08 L257.00,237.38 L257.50,237.68 L258.00,237.98 L258.50,238.28 L259.00,238.57 L259.50,238.85 L260.00,239.13 L260.50,239.41 L261.00,239.69 L261.50,239.96 L262.00,240.23 L262.50,240.50 L263.00,240.77 L263.50,241.03 L264.00,241.29 L264.50,241.55 L265.00,241.80 L265.50,242.05 L266.00,242.31 L266.50,242.56 L267.00,242.80 L267.50,243.05 L268.00,243.30 L268.50,243.54 L269.00,243.78 L269.50,244.02 L270.00,244.26 L270.50,244.50 L271.00,244.74 L271.50,244.98 L272.00,245.22 L272.50,245.46 L273.00,245.69 L273.50,245.93 L274.00,246.17 L274.50,246.41 L275.00,246.65 L275.50,246.89 L276.00,247.12 L276.50,247.36 L277.00,247.61 L277.50,247.85 L278.00,248.09 L278.50,248.33 L279.00,248.57 L279.50,248.81 L280.00,249.05 L280.50,249.30 L281.00,249.54 L281.50,249.78 L282.00,250.02 L282.50,250.26 L283.00,250.50 L283.50,250.74 L284.00,250.97 L284.50,251.21 L285.00,251.45 L285.50,251.68 L286.00,251.91 L286.50,252.15 L287.00,252.38 L287.50,252.60 L288.00,252.83 L288.50,253.05 L289.00,253.27 L289.50,253.49 L290.00,253.70 L290.50,253.91 L291.00,254.11 L291.50,254.30 L292.00,254.50 L292.50,254.68 L293.00,254.86 L293.50,255.03 L294.00,255.20 L294.50,255.36 L295.00,255.52 L295.50,255.67 L296.00,255.82 L296.50,255.97 L297.00,256.11 L297.50,256.25 L298.00,256.38 L298.50,256.52 L299.00,256.65 L299.50,256.78 L300.00,256.91 L300.50,257.04 L301.00,257.17 L301.50,257.30 L302.00,257.42 L302.50,257.55 L303.00,257.67 L303.50,257.80 L304.00,257.92 L304.50,258.04 L305.00,258.17 L305.50,258.29 L306.00,258.41 L306.50,258.53 L307.00,258.65 L307.50,258.77 L308.00,258.89 L308.50,259.00 L309.00,259.12 L309.50,259.24 L310.00,259.35 L310.50,259.47 L311.00,259.58 L311.50,259.69 L312.00,259.81 L312.50,259.92 L313.00,260.03 L313.50,260.14 L314.00,260.25 L314.50,260.36 L315.00,260.47 L315.50,260.58 L316.00,260.68 L316.50,260.79 L317.00,260.90 L317.50,261.00 L318.00,261.11 L318.50,261.21 L319.00,261.31 L319.50,261.42 L320.00,261.52 L320.50,261.62 L321.00,261.72 L321.50,261.82 L322.00,261.92 L322.50,262.02 L323.00,262.12 L323.50,262.21 L324.00,262.31 L324.50,262.41 L325.00,262.50 L325.50,262.60 L326.00,262.69 L326.50,262.78 L327.00,262.88 L327.50,262.97 L328.00,263.06 L328.50,263.15 L329.00,263.24 L329.50,263.33 L330.00,263.42 L330.50,263.51 L331.00,263.60 L331.50,263.68 L332.00,263.77 L332.50,263.85 L333.00,263.94 L333.50,264.02 L334.00,264.11 L334.50,264.19 L335.00,264.27 L335.50,264.36 L336.00,264.44 L336.50,264.52 L337.00,264.60 L337.50,264.68 L338.00,264.76 L338.50,264.84 L339.00,264.91 L339.50,264.99 L340.00,265.07 L340.50,265.14 L341.00,265.22 L341.50,265.29 L342.00,265.37 L342.50,265.44 L343.00,265.52 L343.50,265.59 L344.00,265.66 L344.50,265.73 L345.00,265.80 L345.50,265.87 L346.00,265.94 L346.50,266.01 L347.00,266.08 L347.50,266.15 L348.00,266.21 L348.50,266.28 L349.00,266.35 L349.50,266.41 L350.00,266.48 L350.50,266.54 L351.00,266.61 L351.50,266.67 L352.00,266.73 L352.50,266.79 L353.00,266.86 L353.50,266.92 L354.00,266.98 L354.50,267.04 L355.00,267.10 L355.50,267.16 L356.00,267.21 L356.50,267.27 L357.00,267.33 L357.50,267.39 L358.00,267.44 L358.50,267.50 L359.00,267.55 L359.50,267.61 L360.00,267.66 L360.50,267.71 L361.00,267.77 L361.50,267.82 L362.00,267.87 L362.50,267.92 L363.00,267.97 L363.50,268.02 L364.00,268.07 L364.50,268.12 L365.00,268.17 L365.50,268.22 L366.00,268.27 L366.50,268.31 L367.00,268.36 L367.50,268.41 L368.00,268.45 L368.50,268.50 L369.00,268.54 L369.50,268.59 L370.00,268.63 L370.50,268.67 L371.00,268.71 L371.50,268.76 L372.00,268.80 L372.50,268.84 L373.00,268.88 L373.50,268.92 L374.00,268.96 L374.50,269.00 L375.00,269.04 L375.50,269.08 L376.00,269.11 L376.50,269.15 L377.00,269.19 L377.50,269.22 L378.00,269.26 L378.50,269.29 L379.00,269.33 L379.50,269.36 L380.00,269.40 L380.50,269.43 L381.00,269.46 L381.50,269.49 L382.00,269.50 L382.50,269.50 L383.00,269.50 L383.50,269.50 L384.00,269.50 L384.50,269.50 L385.00,269.50 L385.50,269.50 L386.00,269.50 L386.50,269.50 L387.00,269.50 L387.50,269.50 L388.00,269.50 L388.50,269.50 L389.00,269.50 L389.50,269.50 L390.00,269.50 L390.50,269.50 L391.00,269.50 L391.50,269.50 L392.00,269.50 L392.50,269.50 L393.00,269.50 L393.50,269.50 L394.00,269.50 L394.50,269.50 L395.00,269.50 L395.50,269.50 L396.00,269.50 L396.50,269.50 L397.00,269.50 L397.50,269.50 L398.00,269.50 L398.50,269.50 L399.00,269.50 L399.50,269.50 L400.00,269.50 L400.50,269.50 L401.00,269.50 L401.50,269.50 L402.00,269.50 L402.50,269.50 L403.00,269.50 L403.50,269.50 L404.00,269.50 L404.50,269.50 L405.00,269.50 L405.50,269.50 L406.00,269.50 L406.50,269.50 L407.00,269.50 L407.50,269.50 L408.00,269.50 L408.50,269.50 L409.00,269.50 L409.50,269.50 L410.00,269.50 L410.50,269.50 L411.00,269.50 L411.50,269.50 L412.00,269.50 L412.50,269.50 L413.00,269.50 L413.50,269.50 L414.00,269.50 L414.50,269.50 L415.00,269.50 L415.50,269.50 L416.00,269.50 L416.50,269.50 L417.00,269.50 L417.50,269.50 L418.00,269.50 L418.50,269.50 L419.00,269.50 L419.50,269.50 L420.00,269.50 L420.50,269.50 L421.00,269.50 L421.50,269.50 L422.00,269.50 L422.50,269.50 L423.00,269.50 L423.50,269.50 L424.00,269.50 L424.50,269.50 L425.00,269.50 L425.50,269.50 L426.00,269.50 L426.50,269.50 L427.00,269.50 L427.50,269.50 L428.00,269.50 L428.50,269.50 L429.00,269.50 L429.50,269.50 L430.00,269.50 L430.50,269.50 L431.00,269.50 L431.50,269.50 L432.00,269.50 L432.50,269.50 L433.00,269.50 L433.50,269.50 L434.00,269.50 L434.50,269.50 L435.00,269.50 L435.50,269.50 L436.00,269.50 L436.50,269.50 L437.00,269.50 L437.50,269.50 L438.00,269.50 L438.50,269.50 L439.00,269.50 L439.50,269.50 L440.00,269.50 L440.50,269.50 L441.00,269.50 L441.50,269.50 L442.00,269.50 L442.50,269.50 L443.00,269.50 L443.50,269.50 L444.00,269.50 L444.50,269.50 L445.00,269.50 L445.50,269.50 L446.00,269.50 L446.50,269.50 L447.00,269.50 L447.50,269.50 L448.00,269.50 L448.50,269.50 L449.00,269.50 L449.50,269.50 L450.00,269.50 L450.50,269.50 L451.00,269.50 L451.50,269.50 L452.00,269.50 L452.50,269.50 L453.00,269.50 L453.50,269.50 L454.00,269.50 L454.50,269.50 L455.00,269.50 L455.50,269.50 L456.00,269.50 L456.50,269.50 L457.00,269.50 L457.50,269.50 L458.00,269.50 L458.50,269.50 L459.00,269.50 L459.50,269.50 L460.00,269.50 L460.50,269.50 L461.00,269.50 L461.50,269.50 L462.00,269.50 L462.50,269.50 L463.00,269.50 L463.50,269.50 L464.00,269.50 L464.50,269.50 L465.00,269.50 L465.50,269.50" stroke="#ff8000"/>
<path d="M63.00,45.32 L63.50,45.05 L64.00,44.79 L64.50,44.54 L65.00,44.30 L65.50,44.07 L66.00,43.85 L66.50,43.64 L67.00,43.44 L67.50,43.25 L68.00,43.07 L68.50,42.89 L69.00,42.73 L69.50,42.57 L70.00,42.43 L70.50,42.29 L71.00,42.16 L71.50,42.04 L72.00,41.93 L72.50,41.83 L73.00,41.73 L73.50,41.65 L74.00,41.57 L74.50,41.50 L75.00,41.44 L75.50,41.38 L76.00,41.34 L76.50,41.30 L77.00,41.27 L77.50,41.25 L78.00,41.23 L78.50,41.23 L79.00,41.23 L79.50,41.24 L80.00,41.25 L80.50,41.27 L81.00,41.30 L81.50,41.34 L82.00,41.38 L82.50,41.43 L83.00,41.49 L83.50,41.55 L84.00,41.62 L84.50,41.70 L85.00,41.78 L85.50,41.87 L86.00,41.97 L86.50,42.07 L87.00,42.18 L87.50,42.29 L88.00,42.41 L88.50,42.54 L89.00,42.67 L89.50,42.80 L90.00,42.95 L90.50,43.09 L91.00,43.25 L91.50,43.41 L92.00,43.57 L92.50,43.74 L93.00,43.91 L93.50,44.09 L94.00,44.28 L94.50,44.47 L95.00,44.66 L95.50,44.86 L96.00,45.06 L96.50,45.27 L97.00,45.48 L97.50,45.70 L98.00,45.92 L98.50,46.14 L99.00,46.37 L99.50,46.60 L100.00,46.84 L100.50,47.08 L101.00,47.32 L101.50,47.57 L102.00,47.82 L102.50,48.07 L103.00,48.33 L103.50,48.59 L104.00,48.86 L104.50,49.12 L105.00,49.39 L105.50,49.67 L106.00,49.94 L106.50,50.22 L107.00,50.50 L107.50,50.79 L108.00,51.08 L108.50,51.37 L109.00,51.66 L109.50,51.95 L110.00,52.25 L110.50,52.54 L111.00,52.84 L111.50,53.15 L112.00,53.45 L112.50,53.76 L113.00,54.06 L113.50,54.37 L114.00,54.68 L114.50,55.00 L115.00,55.31 L115.50,55.62 L116.00,55.94 L116.50,56.26 L117.00,56.57 L117.50,56.89 L118.00,57.21 L118.50,57.53 L119.00,57.85 L119.50,58.17 L120.00,58.50 L120.50,58.82 L121.00,59.14 L121.50,59.46 L122.00,59.79 L122.50,60.11 L123.00,60.43 L123.50,60.76 L124.00,61.08 L124.50,61.41 L125.00,61.74 L125.50,62.07 L126.00,62.40 L126.50,62.73 L127.00,63.07 L127.50,63.40 L128.00,63.74 L128.50,64.08 L129.00,64.42 L129.50,64.77 L130.00,65.12 L130.50,65.47 L131.00,65.83 L131.50,66.18 L132.00,66.55 L132.50,66.91 L133.00,67.28 L133.50,67.65 L134.00,68.03 L134.50,68.41 L135.00,68.80 L135.50,69.19 L136.00,69.59 L136.50,69.99 L137.00,70.39 L137.50,70.80 L138.00,71.22 L138.50,71.64 L139.00,72.07 L139.50,72.50 L140.00,72.94 L140.50,73.39 L141.00,73.84 L141.50,74.30 L142.00,74.77 L142.50,75.24 L143.00,75.72 L143.50,76.21 L144.00,76.71 L144.50,77.21 L145.00,77.72 L145.50,78.24 L146.00,78.76 L146.50,79.30 L147.00,79.84 L147.50,80.39 L148.00,80.94 L148.50,81.50 L149.00,82.06 L149.50,82.63 L150.00,83.20 L150.50,83.78 L151.00,84.35 L151.50,84.93 L152.00,85.51 L152.50,86.10 L153.00,86.68 L153.50,87.26 L154.00,87.84 L154.50,88.42 L155.00,89.00 L155.50,89.57 L156.00,90.15 L156.50,90.73 L157.00,91.30 L157.50,91.88 L158.00,92.46 L158.50,93.04 L159.00,93.63 L159.50,94.21 L160.00,94.80 L160.50,95.39 L161.00,95.99 L161.50,96.59 L162.00,97.20 L162.50,97.81 L163.00,98.43 L163.50,99.05 L164.00,99.68 L164.50,100.32 L165.00,100.96 L165.50,101.61 L166.00,102.28 L166.50,102.95 L167.00,103.63 L167.50,104.32 L168.00,105.03 L168.50,105.74 L169.00,106.46 L169.50,107.20 L170.00,107.95 L170.50,108.70 L171.00,109.47 L171.50,110.24 L172.00,111.03 L172.50,111.82 L173.00,112.62 L173.50,113.43 L174.00,114.25 L174.50,115.08 L175.00,115.91 L175.50,116.76 L176.00,117.61 L176.50,118.46 L177.00,119.32 L177.50,120.19 L178.00,121.06 L178.50,121.94 L179.00,122.82 L179.50,123.71 L180.00,124.60 L180.50,125.49 L181.00,126.39 L181.50,127.29 L182.00,128.19 L182.50,129.09 L183.00,129.99 L183.50,130.89 L184.00,131.80 L184.50,132.70 L185.00,133.60 L185.50,134.50 L186.00,135.40 L186.50,136.30 L187.00,137.19 L187.50,138.08 L188.00,138.97 L188.50,139.85 L189.00,140.73 L189.50,141.61 L190.00,142.48 L190.50,143.34 L191.00,144.21 L191.50,145.06 L192.00,145.91 L192.50,146.76 L193.00,147.60 L193.50,148.44 L194.00,149.27 L194.50,150.10 L195.00,150.92 L195.50,151.73 L196.00,152.54 L196.50,153.34 L197.00,154.14 L197.50,154.93 L198.00,155.72 L198.50,156.49 L199.00,157.27 L199.50,158.03 L200.00,158.79 L200.50,159.55 L201.00,160.29 L201.50,161.03 L202.00,161.77 L202.50,162.49 L203.00,163.21 L203.50,163.92 L204.00,164.63 L204.50,165.33 L205.00,166.02 L205.50,166.71 L206.00,167.39 L206.50,168.06 L207.00,168.73 L207.50,169.40 L208.00,170.05 L208.50,170.70 L209.00,171.35 L209.50,171.99 L210.00,172.63 L210.50,173.26 L211.00,173.88 L211.50,174.50 L212.00,175.12 L212.50,175.73 L213.00,176.34 L213.50,176.94 L214.00,177.54 L214.50,178.13 L215.00,178.72 L215.50,179.30 L216.00,179.89 L216.50,180.46 L217.00,181.04 L217.50,181.61 L218.00,182.17 L218.50,182.74 L219.00,183.30 L219.50,183.86 L220.00,184.41 L220.50,184.96 L221.00,185.51 L221.50,186.06 L222.00,186.60 L222.50,187.14 L223.00,187.68 L223.50,188.22 L224.00,188.76 L224.50,189.29 L225.00,189.82 L225.50,190.35 L226.00,190.88 L226.50,191.40 L227.00,191.93 L227.50,192.45 L228.00,192.98 L228.50,193.50 L229.00,194.02 L229.50,194.54 L230.00,195.06 L230.50,195.58 L231.00,196.10 L231.50,196.61 L232.00,197.13 L232.50,197.65 L233.00,198.16 L233.50,198.68 L234.00,199.19 L234.50,199.70 L235.00,200.22 L235.50,200.73 L236.00,201.24 L236.50,201.74 L237.00,202.25 L237.50,202.76 L238.00,203.26 L238.50,203.76 L239.00,204.27 L239.50,204.77 L240.00,205.26 L240.50,205.76 L241.00,206.26 L241.50,206.75 L242.00,207.24 L242.50,207.73 L243.00,208.22 L243.50,208.70 L244.00,209.19 L244.50,209.67 L245.00,210.15 L245.50,210.63 L246.00,211.10 L246.50,211.58 L247.00,212.05 L247.50,212.51 L248.00,212.98 L248.50,213.44 L249.00,213.91 L249.50,214.36 L250.00,214.82 L250.50,215.27 L251.00,215.72 L251.50,216.17 L252.00,216.62 L252.50,217.06 L253.00,217.50 L253.50,217.93 L254.00,218.37 L254.50,218.80 L255.00,219.22 L255.50,219.65 L256.00,220.07 L256.50,220.48 L257.00,220.90 L257.50,221.31 L258.00,221.71 L258.50,222.11 L259.00,222.51 L259.50,222.91 L260.00,223.30 L260.50,223.69 L261.00,224.07 L261.50,224.45 L262.00,224.83 L262.50,225.20 L263.00,225.57 L263.50,225.94 L264.00,226.30 L264.50,226.65 L265.00,227.01 L265.50,227.35 L266.00,227.70 L266.50,228.04 L267.00,228.37 L267.50,228.71 L268.00,229.03 L268.50,229.36 L269.00,229.68 L269.50,230.00 L270.00,230.31 L270.50,230.62 L271.00,230.93 L271.50,231.23 L272.00,231.53 L272.50,231.83 L273.00,232.12 L273.50,232.41 L274.00,232.70 L274.50,232.98 L275.00,233.26 L275.50,233.54 L276.00,233.82 L276.50,234.09 L277.00,234.36 L277.50,234.63 L278.00,234.89 L278.50,235.15 L279.00,235.41 L279.50,235.67 L280.00,235.93 L280.50,236.18 L281.00,236.43 L281.50,236.67 L282.00,236.92 L282.50,237.16 L283.00,237.40 L283.50,237.64 L284.00,237.88 L284.50,238.12 L285.00,238.35 L285.50,238.58 L286.00,238.81 L286.50,239.04 L287.00,239.27 L287.50,239.49 L288.00,239.71 L288.50,239.94 L289.00,240.16 L289.50,240.38 L290.00,240.59 L290.50,240.81 L291.00,241.03 L291.50,241.24 L292.00,241.46 L292.50,241.67 L293.00,241.88 L293.50,242.09 L294.00,242.30 L294.50,242.51 L295.00,242.72 L295.50,242.93 L296.00,243.13 L296.50,243.34 L297.00,243.55 L297.50,243.75 L298.00,243.96 L298.50,244.16 L299.00,244.36 L299.50,244.57 L300.00,244.77 L300.50,244.97 L301.00,245.17 L301.50,245.37 L302.00,245.57 L302.50,245.77 L303.00,245.97 L303.50,246.17 L304.00,246.36 L304.50,246.56 L305.00,246.75 L305.50,246.95 L306.00,247.14 L306.50,247.34 L307.00,247.53 L307.50,247.72 L308.00,247.91 L308.50,248.11 L309.00,248.30 L309.50,248.49 L310.00,248.68 L310.50,248.86 L311.00,249.05 L311.50,249.24 L312.00,249.43 L312.50,249.61 L313.00,249.80 L313.50,249.98 L314.00,250.17 L314.50,250.35 L315.00,250.53 L315.50,250.71 L316.00,250.89 L316.50,251.08 L317.00,251.26 L317.50,251.44 L318.00,251.61 L318.50,251.79 L319.00,251.97 L319.50,252.15 L320.00,252.32 L320.50,252.50 L321.00,252.67 L321.50,252.85 L322.00,253.02 L322.50,253.20 L323.00,253.37 L323.50,253.54 L324.00,253.71 L324.50,253.88 L325.00,254.05 L325.50,254.22 L326.00,254.38 L326.50,254.55 L327.00,254.71 L327.50,254.88 L328.00,255.04 L328.50,255.20 L329.00,255.36 L329.50,255.52 L330.00,255.68 L330.50,255.84 L331.00,255.99 L331.50,256.15 L332.00,256.30 L332.50,256.45 L333.00,256.60 L333.50,256.75 L334.00,256.90 L334.50,257.05 L335.00,257.19 L335.50,257.34 L336.00,257.48 L336.50,257.62 L337.00,257.76 L337.50,257.90 L338.00,258.03 L338.50,258.17 L339.00,258.30 L339.50,258.43 L340.00,258.56 L340.50,258.68 L341.00,258.81 L341.50,258.93 L342.00,259.06 L342.50,259.18 L343.00,259.29 L343.50,259.41 L344.00,259.53 L344.50,259.64 L345.00,259.75 L345.50,259.86 L346.00,259.97 L346.50,260.08 L347.00,260.18 L347.50,260.29 L348.00,260.39 L348.50,260.49 L349.00,260.59 L349.50,260.69 L350.00,260.78 L350.50,260.88 L351.00,260.97 L351.50,261.07 L352.00,261.16 L352.50,261.25 L353.00,261.34 L353.50,261.42 L354.00,261.51 L354.50,261.59 L355.00,261.68 L355.50,261.76 L356.00,261.84 L356.50,261.92 L357.00,262.00 L357.50,262.08 L358.00,262.16 L358.50,262.23 L359.00,262.31 L359.50,262.38 L360.00,262.46 L360.50,262.53 L361.00,262.60 L361.50,262.67 L362.00,262.74 L362.50,262.81 L363.00,262.88 L363.50,262.95 L364.00,263.01 L364.50,263.08 L365.00,263.14 L365.50,263.21 L366.00,263.27 L366.50,263.33 L367.00,263.40 L367.50,263.46 L368.00,263.52 L368.50,263.58 L369.00,263.64 L369.50,263.70 L370.00,263.76 L370.50,263.82 L371.00,263.88 L371.50,263.93 L372.00,263.99 L372.50,264.05 L373.00,264.10 L373.50,264.16 L374.00,264.22 L374.50,264.27 L375.00,264.33 L375.50,264.38 L376.00,264.44 L376.50,264.49 L377.00,264.55 L377.50,264.60 L378.00,264.66 L378.50,264.71 L379.00,264.76 L379.50,264.82 L380.00,264.87 L380.50,264.93 L381.00,264.98 L381.50,265.03 L382.00,265.09 L382.50,265.14 L383.00,265.20 L383.50,265.25 L384.00,265.30 L384.50,265.36 L385.00,265.41 L385.50,265.47 L386.00,265.52 L386.50,265.58 L387.00,265.64 L387.50,265.69 L388.00,265.75 L388.50,265.81 L389.00,265.86 L389.50,265.92 L390.00,265.98 L390.50,266.04 L391.00,266.09 L391.50,266.15 L392.00,266.21 L392.50,266.27 L393.00,266.33 L393.50,266.40 L394.00,266.46 L394.50,266.52 L395.00,266.58 L395.50,266.65 L396.00,266.71 L396.50,266.77 L397.00,266.84 L397.50,266.90 L398.00,266.97 L398.50,267.03 L399.00,267.10 L399.50,267.16 L400.00,267.23 L400.50,267.29 L401.00,267.36 L401.50,267.42 L402.00,267.49 L402.50,267.56 L403.00,267.62 L403.50,267.69 L404.00,267.76 L404.50,267.82 L405.00,267.89 L405.50,267.95 L406.00,268.02 L406.50,268.09 L407.00,268.15 L407.50,268.22 L408.00,268.29 L408.50,268.35 L409.00,268.42 L409.50,268.48 L410.00,268.55 L410.50,268.61 L411.00,268.68 L411.50,268.74 L412.00,268.81 L412.50,268.87 L413.00,268.93 L413.50,269.00 L414.00,269.06 L414.50,269.12 L415.00,269.18 L415.50,269.24 L416.00,269.30 L416.50,269.36 L417.00,269.42 L417.50,269.48 L418.00,269.50 L418.50,269.50 L419.00,269.50 L419.50,269.50 L420.00,269.50 L420.50,269.50 L421.00,269.50 L421.50,269.50 L422.00,269.50 L422.50,269.50 L423.00,269.50 L423.50,269.50 L424.00,269.50 L424.50,269.50 L425.00,269.50 L425.50,269.50 L426.00,269.50 L426.50,269.50 L427.00,269.50 L427.50,269.50 L428.00,269.50 L428.50,269.50 L429.00,269.50 L429.50,269.50 L430.00,269.50 L430.50,269.50 L431.00,269.50 L431.50,269.50 L432.00,269.50 L432.50,269.50 L433.00,269.50 L433.50,269.50 L434.00,269.50 L434.50,269.50 L435.00,269.50 L435.50,269.50 L436.00,269.50 L436.50,269.50 L437.00,269.50 L437.50,269.50 L438.00,269.50 L438.50,269.50 L439.00,269.50 L439.50,269.50 L440.00,269.50 L440.50,269.50 L441.00,269.50 L441.50,269.50 L442.00,269.50 L442.50,269.50 L443.00,269.50 L443.50,269.50 L444.00,269.50 L444.50,269.50 L445.00,269.50 L445.50,269.50 L446.00,269.50 L446.50,269.50 L447.00,269.50 L447.50,269.50 L448.00,269.50 L448.50,269.50 L449.00,269.50 L449.50,269.50 L450.00,269.50 L450.50,269.50 L451.00,269.50 L451.50,269.50 L452.00,269.50 L452.50,269.50 L453.00,269.50 L453.50,269.50 L454.00,269.50 L454.50,269.50 L455.00,269.50 L455.50,269.50 L456.00,269.50 L456.50,269.50 L457.00,269.50 L457.50,269.50 L458.00,269.50 L458.50,269.50 L459.00,269.50 L459.50,269.50 L460.00,269.50 L460.50,269.50 L461.00,269.50 L461.50,269.50 L462.00,269.50 L462.50,269.50 L463.00,269.50 L463.50,269.50 L464.00,269.50 L464.50,269.50 L465.00,269.50 L465.50,269.50" stroke="#80c000"/>
</g>
<g stroke="#000" stroke-width="1" fill="none">
<rect x="63.00" y="6.50" width="402.50" height="263.00"/>
<path d="M96.54,269.50 v-2.20 M96.54,6.50 v2.20"/>
<path d="M130.08,269.50 v-4.50 M130.08,6.50 v4.50"/>
<path d="M163.62,269.50 v-2.20 M163.62,6.50 v2.20"/>
<path d="M197.17,269.50 v-4.50 M197.17,6.50 v4.50"/>
<path d="M230.71,269.50 v-2.20 M230.71,6.50 v2.20"/>
<path d="M264.25,269.50 v-4.50 M264.25,6.50 v4.50"/>
<path d="M297.79,269.50 v-2.20 M297.79,6.50 v2.20"/>
<path d="M331.33,269.50 v-4.50 M331.33,6.50 v4.50"/>
<path d="M364.88,269.50 v-2.20 M364.88,6.50 v2.20"/>
<path d="M398.42,269.50 v-4.50 M398.42,6.50 v4.50"/>
<path d="M431.96,269.50 v-2.20 M431.96,6.50 v2.20"/>
<path d="M63.00,247.58 h2.20 M465.50,247.58 h-2.20"/>
<path d="M63.00,225.67 h4.50 M465.50,225.67 h-4.50"/>
<path d="M63.00,203.75 h2.20 M465.50,203.75 h-2.20"/>
<path d="M63.00,181.83 h4.50 M465.50,181.83 h-4.50"/>
<path d="M63.00,159.92 h2.20 M465.50,159.92 h-2.20"/>
<path d="M63.00,138.00 h4.50 M465.50,138.00 h-4.50"/>
<path d="M63.00,116.08 h2.20 M465.50,116.08 h-2.20"/>
<path d="M63.00,94.17 h4.50 M465.50,94.17 h-4.50"/>
<path d="M63.00,72.25 h2.20 M465.50,72.25 h-2.20"/>
<path d="M63.00,50.33 h4.50 M465.50,50.33 h-4.50"/>
<path d="M63.00,28.42 h2.20 M465.50,28.42 h-2.20"/>
</g>
<path d="M330,269.50 H398" stroke="#2c1258" stroke-width="1" fill="none"/>
<path d="M398,269.50 H465.00" stroke="#561a08" stroke-width="1" fill="none"/>
<g font-size="15" fill="#000">
<text x="63.00" y="285.40" text-anchor="middle">0</text>
<text x="130.08" y="285.40" text-anchor="middle">1</text>
<text x="197.17" y="285.40" text-anchor="middle">2</text>
<text x="264.25" y="285.40" text-anchor="middle">3</text>
<text x="331.33" y="285.40" text-anchor="middle">4</text>
<text x="398.42" y="285.40" text-anchor="middle">5</text>
<text x="465.50" y="285.40" text-anchor="middle">6</text>
<text x="56.20" y="274.50" text-anchor="end">0.0</text>
<text x="56.20" y="230.67" text-anchor="end">0.5</text>
<text x="56.20" y="186.83" text-anchor="end">1.0</text>
<text x="56.20" y="143.00" text-anchor="end">1.5</text>
<text x="56.20" y="99.17" text-anchor="end">2.0</text>
<text x="56.20" y="55.33" text-anchor="end">2.5</text>
<text x="56.20" y="11.50" text-anchor="end">3.0</text>
</g>
<text x="263.5" y="309.6" font-size="18" text-anchor="middle" fill="#000"><tspan font-style="italic">r</tspan> / <tspan font-style="italic">R</tspan><tspan font-size="14.5" dy="4">g</tspan></text>
<g transform="translate(14.7,0) rotate(-90)" font-size="18" fill="#000"><text transform="translate(-167.3,0) scale(1.25,1)" font-style="italic">β</text><text transform="translate(-155.9,0) scale(0.95,1)">Φ</text><text x="-142.4" y="5.2" font-size="14.5">eff</text><text x="-127.7">(</text><text x="-121.4" font-style="italic">r</text><text x="-114.6">)</text></g>
<rect x="241.60" y="20.80" width="208.90" height="107.20" fill="#fff" stroke="none"/>
<g stroke="#000" stroke-width="1" fill="none">
<rect x="241.60" y="20.80" width="208.90" height="107.20"/>
<path d="M276.42,128.00 v-2.00 M276.42,20.80 v2.00"/>
<path d="M311.23,128.00 v-4.00 M311.23,20.80 v4.00"/>
<path d="M346.05,128.00 v-2.00 M346.05,20.80 v2.00"/>
<path d="M380.87,128.00 v-4.00 M380.87,20.80 v4.00"/>
<path d="M415.68,128.00 v-2.00 M415.68,20.80 v2.00"/>
<path d="M241.60,101.20 h2.00 M450.50,101.20 h-2.00"/>
<path d="M241.60,74.40 h4.00 M450.50,74.40 h-4.00"/>
<path d="M241.60,47.60 h2.00 M450.50,47.60 h-2.00"/>
</g>
<g font-size="13" fill="#000">
<text x="241.60" y="141.00" text-anchor="middle">0.0</text>
<text x="311.23" y="141.00" text-anchor="middle">0.4</text>
<text x="380.87" y="141.00" text-anchor="middle">0.8</text>
<text x="450.50" y="141.00" text-anchor="middle">1.2</text>
<text x="236.30" y="132.60" text-anchor="end">0.4</text>
<text x="236.30" y="79.00" text-anchor="end">0.8</text>
<text x="236.30" y="25.40" text-anchor="end">1.2</text>
</g>
<text transform="translate(341.8,145.0) scale(1.15,1)" font-size="15.5" font-style="italic" fill="#000">ρ</text>
<g transform="translate(207.0,0) rotate(-90)" fill="#000"><text transform="translate(-92.3,0) scale(1.12,1)" font-size="15" font-style="italic">ρ</text><text x="-84.2" y="5.6" font-size="11.3">freeze</text></g>
<circle cx="241.60" cy="77.08" r="3.60" fill="#000000"/>
<rect x="304.20" y="101.67" width="7.10" height="7.10" fill="#0040ff"/>
<path d="M332.12,97.87 L336.22,104.57 L328.02,104.57 Z" fill="#8000ff"/>
<path d="M354.75,96.35 L358.85,89.65 L350.65,89.65 Z" fill="#ff0814"/>
<path d="M384.35,70.30 L388.45,74.40 L384.35,78.50 L380.25,74.40 Z" fill="#ff8000"/>
<path d="M424.39,35.46 L428.29,38.29 L426.80,42.88 L421.98,42.88 L420.49,38.29 Z" fill="#80c000"/>
<text transform="translate(250.00,173.60) scale(1.25,1)" font-size="16.5" font-style="italic" fill="#000">ρ</text>
<text x="258.90" y="175.00" font-size="16.5" fill="#000">=</text>
<text x="268.21" y="173.60" font-size="16.5" fill="#000">0.00</text>
<path d="M308.20,168.00 H335.00" stroke="#000000" stroke-width="1.25"/>
<circle cx="321.60" cy="168.00" r="3.60" fill="#000000"/>
<text transform="translate(250.00,190.10) scale(1.25,1)" font-size="16.5" font-style="italic" fill="#000">ρ</text>
<text x="258.90" y="191.50" font-size="16.5" fill="#000">=</text>
<text x="268.21" y="190.10" font-size="16.5" fill="#000">0.38</text>
<path d="M308.20,184.50 H335.00" stroke="#0040ff" stroke-width="1.25"/>
<rect x="318.05" y="180.95" width="7.10" height="7.10" fill="#0040ff"/>
<text transform="translate(250.00,206.60) scale(1.25,1)" font-size="16.5" font-style="italic" fill="#000">ρ</text>
<text x="258.90" y="208.00" font-size="16.5" fill="#000">=</text>
<text x="268.21" y="206.60" font-size="16.5" fill="#000">0.52</text>
<path d="M308.20,201.00 H335.00" stroke="#8000ff" stroke-width="1.25"/>
<path d="M321.60,196.60 L325.70,203.30 L317.50,203.30 Z" fill="#8000ff"/>
<text transform="translate(363.60,173.60) scale(1.25,1)" font-size="16.5" font-style="italic" fill="#000">ρ</text>
<text x="372.50" y="175.00" font-size="16.5" fill="#000">=</text>
<text x="381.81" y="173.60" font-size="16.5" fill="#000">0.65</text>
<path d="M421.60,168.00 H448.00" stroke="#ff0814" stroke-width="1.25"/>
<path d="M434.80,172.40 L438.90,165.70 L430.70,165.70 Z" fill="#ff0814"/>
<text transform="translate(363.60,190.10) scale(1.25,1)" font-size="16.5" font-style="italic" fill="#000">ρ</text>
<text x="372.50" y="191.50" font-size="16.5" fill="#000">=</text>
<text x="381.81" y="190.10" font-size="16.5" fill="#000">0.82</text>
<path d="M421.60,184.50 H448.00" stroke="#ff8000" stroke-width="1.25"/>
<path d="M434.80,180.40 L438.90,184.50 L434.80,188.60 L430.70,184.50 Z" fill="#ff8000"/>
<text transform="translate(363.60,206.60) scale(1.25,1)" font-size="16.5" font-style="italic" fill="#000">ρ</text>
<text x="372.50" y="208.00" font-size="16.5" fill="#000">=</text>
<text x="381.81" y="206.60" font-size="16.5" fill="#000">1.05</text>
<path d="M421.60,201.00 H448.00" stroke="#80c000" stroke-width="1.25"/>
<path d="M434.80,196.90 L438.70,199.73 L437.21,204.32 L432.39,204.32 L430.90,199.73 Z" fill="#80c000"/>
</svg>
</body></html>
